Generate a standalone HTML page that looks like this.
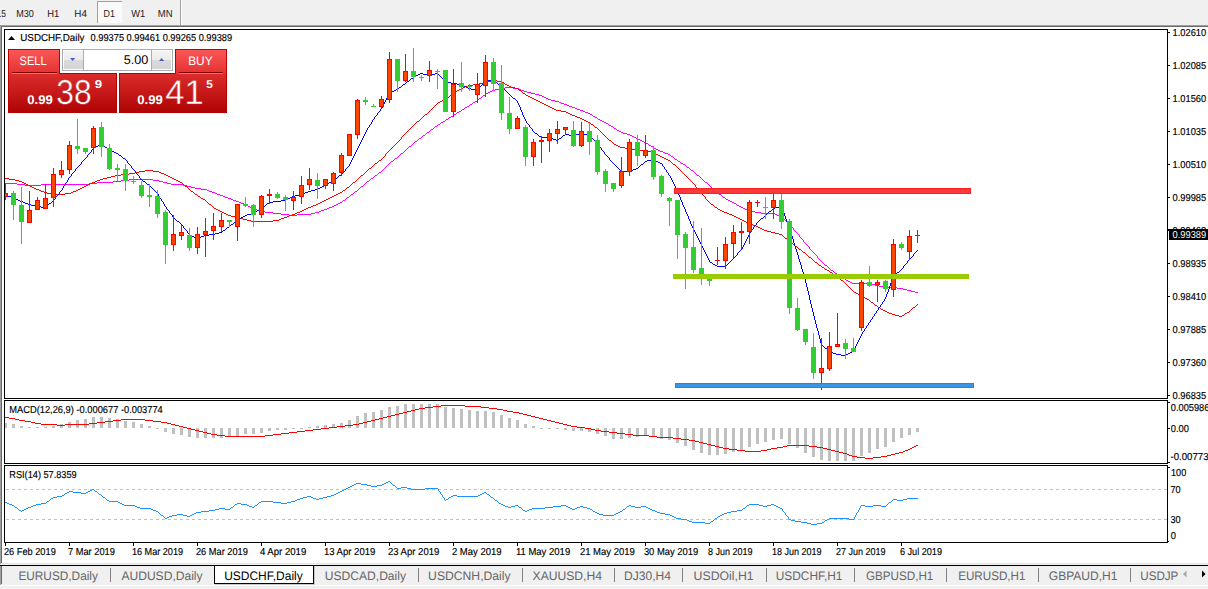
<!DOCTYPE html>
<html><head><meta charset="utf-8"><title>USDCHF,Daily</title><style>html,body{margin:0;padding:0;background:#f0f0f0;width:1208px;height:589px;overflow:hidden}text{white-space:pre}</style></head><body>
<svg width="1208" height="589" viewBox="0 0 1208 589" font-family='"Liberation Sans", Arial, sans-serif' shape-rendering="crispEdges" text-rendering="geometricPrecision" style="display:block">
<defs><clipPath id="cm"><rect x="5" y="30" width="1162" height="368"/></clipPath><clipPath id="cd"><rect x="5" y="401" width="1162" height="62"/></clipPath><clipPath id="cr"><rect x="5" y="466" width="1162" height="76"/></clipPath><clipPath id="ctab"><rect x="0" y="566" width="1178" height="20"/></clipPath><linearGradient id="gbtn" x1="0" y1="0" x2="0" y2="1"><stop offset="0" stop-color="#fb5757"/><stop offset="1" stop-color="#e33131"/></linearGradient><linearGradient id="gpan" x1="0" y1="0" x2="0" y2="1"><stop offset="0" stop-color="#dc2c2c"/><stop offset="1" stop-color="#af0404"/></linearGradient><linearGradient id="gspin" x1="0" y1="0" x2="0" y2="1"><stop offset="0" stop-color="#f2f2f2"/><stop offset="0.5" stop-color="#ebebeb"/><stop offset="0.5" stop-color="#dadada"/><stop offset="1" stop-color="#d5d5d5"/></linearGradient></defs>
<rect x="0" y="0" width="1208" height="589" fill="#f0f0f0"/>
<text x="-10.5" y="17" font-size="10.1" fill="#1a1a1a" textLength="16.5" lengthAdjust="spacingAndGlyphs">M15</text>
<text x="16.2" y="17" font-size="10.1" fill="#1a1a1a" textLength="17.6" lengthAdjust="spacingAndGlyphs">M30</text>
<text x="47.2" y="17" font-size="10.1" fill="#1a1a1a" textLength="12" lengthAdjust="spacingAndGlyphs">H1</text>
<text x="74.3" y="17" font-size="10.1" fill="#1a1a1a" textLength="12.6" lengthAdjust="spacingAndGlyphs">H4</text>
<rect x="97" y="1" width="25" height="22" fill="#fafafa"/>
<rect x="97" y="1" width="25" height="1" fill="#a0a0a0"/>
<rect x="97" y="1" width="1" height="22" fill="#a0a0a0"/>
<text x="103.5" y="17" font-size="10.1" fill="#1a1a1a" textLength="11.4" lengthAdjust="spacingAndGlyphs">D1</text>
<text x="131.2" y="17" font-size="10.1" fill="#1a1a1a" textLength="14" lengthAdjust="spacingAndGlyphs">W1</text>
<text x="157.8" y="17" font-size="10.1" fill="#1a1a1a" textLength="14.7" lengthAdjust="spacingAndGlyphs">MN</text>
<rect x="180" y="0" width="1" height="25" fill="#a0a0a0"/>
<rect x="181" y="0" width="1" height="25" fill="#ffffff"/>
<rect x="0" y="25" width="1208" height="1" fill="#a0a0a0"/>
<rect x="1" y="26" width="1207" height="1" fill="#696969"/>
<rect x="0" y="25" width="1" height="539" fill="#a0a0a0"/>
<rect x="1" y="26" width="1" height="537" fill="#696969"/>
<rect x="2" y="27" width="1206" height="536" fill="#ffffff"/>
<rect x="1" y="563" width="1207" height="1" fill="#e3e3e3"/>
<rect x="4" y="29" width="1164" height="1" fill="#000"/>
<rect x="4" y="398" width="1164" height="1" fill="#000"/>
<rect x="4" y="29" width="1" height="370" fill="#000"/>
<rect x="1167" y="29" width="1" height="370" fill="#000"/>
<rect x="4" y="400" width="1164" height="1" fill="#000"/>
<rect x="4" y="463" width="1164" height="1" fill="#000"/>
<rect x="4" y="400" width="1" height="64" fill="#000"/>
<rect x="1167" y="400" width="1" height="64" fill="#000"/>
<rect x="4" y="465" width="1164" height="1" fill="#000"/>
<rect x="4" y="542" width="1164" height="1" fill="#000"/>
<rect x="4" y="465" width="1" height="78" fill="#000"/>
<rect x="1167" y="465" width="1" height="78" fill="#000"/>
<g clip-path="url(#cm)">
<path d="M375 175h2v1h-2zM697 175h2v1h-2zM129 179h24v1h-24zM257 210h3v1h-3zM321 210h3v1h-3zM748 210h3v1h-3zM248 206h2v1h-2zM332 206h2v1h-2zM739 206h2v1h-2zM255 209h2v1h-2zM324 209h3v1h-3zM745 209h3v1h-3zM121 180h8v1h-8zM153 180h6v1h-6zM831 270h2v1h-2zM265 212h8v1h-8zM315 212h4v1h-4zM755 212h6v1h-6zM281 214h8v1h-8zM297 214h14v1h-14zM775 214h2v1h-2zM379 172h2v1h-2zM499 88h6v1h-6zM513 88h6v1h-6zM225 197h3v1h-3zM347 197h2v1h-2zM723 197h2v1h-2zM113 181h8v1h-8zM159 181h4v1h-4zM367 181h2v1h-2zM195 188h6v1h-6zM883 287h14v1h-14zM852 283h19v1h-19zM663 152h2v1h-2zM241 203h3v1h-3zM338 203h2v1h-2zM734 203h2v1h-2zM231 199h2v1h-2zM726 199h2v1h-2zM17 184h8v1h-8zM41 184h48v1h-48zM171 184h12v1h-12zM614 128h2v1h-2zM897 288h6v1h-6zM588 113h2v1h-2zM459 111h2v1h-2zM583 111h2v1h-2zM640 140h2v1h-2zM490 91h2v1h-2zM524 91h3v1h-3zM233 200h3v1h-3zM343 200h2v1h-2zM728 200h2v1h-2zM217 194h3v1h-3zM351 194h2v1h-2zM719 194h2v1h-2zM475 101h2v1h-2zM555 101h4v1h-4zM244 204h2v1h-2zM336 204h2v1h-2zM250 207h2v1h-2zM329 207h3v1h-3zM741 207h2v1h-2zM606 123h2v1h-2zM431 129h2v1h-2zM561 103h3v1h-3zM575 108h2v1h-2zM634 137h2v1h-2zM903 289h4v1h-4zM483 95h2v1h-2zM539 95h3v1h-3zM236 201h3v1h-3zM730 201h2v1h-2zM209 191h3v1h-3zM355 191h2v1h-2zM273 213h8v1h-8zM311 213h4v1h-4zM761 213h14v1h-14zM191 187h4v1h-4zM435 126h2v1h-2zM611 126h2v1h-2zM415 141h2v1h-2zM642 141h2v1h-2zM260 211h5v1h-5zM319 211h2v1h-2zM751 211h4v1h-4zM492 90h3v1h-3zM521 90h3v1h-3zM644 142h2v1h-2zM419 138h2v1h-2zM636 138h2v1h-2zM850 282h2v1h-2zM871 284h4v1h-4zM201 189h6v1h-6zM713 189h2v1h-2zM97 182h16v1h-16zM163 182h4v1h-4zM705 182h2v1h-2zM638 139h2v1h-2zM423 135h2v1h-2zM630 135h2v1h-2zM207 190h2v1h-2zM473 102h2v1h-2zM559 102h2v1h-2zM187 186h4v1h-4zM361 186h2v1h-2zM875 285h4v1h-4zM289 215h8v1h-8zM777 215h3v1h-3zM681 163h2v1h-2zM25 185h16v1h-16zM183 185h4v1h-4zM907 290h4v1h-4zM486 93h2v1h-2zM531 93h4v1h-4zM683 164h2v1h-2zM846 280h2v1h-2zM627 134h3v1h-3zM623 133h4v1h-4zM5 183h12v1h-12zM89 183h8v1h-8zM167 183h4v1h-4zM462 109h2v1h-2zM577 109h3v1h-3zM391 161h2v1h-2zM678 161h2v1h-2zM619 131h2v1h-2zM467 106h2v1h-2zM569 106h3v1h-3zM505 87h8v1h-8zM548 99h3v1h-3zM443 121h2v1h-2zM602 121h2v1h-2zM488 92h2v1h-2zM527 92h4v1h-4zM465 107h2v1h-2zM572 107h3v1h-3zM441 122h2v1h-2zM604 122h2v1h-2zM212 192h3v1h-3zM470 104h2v1h-2zM564 104h3v1h-3zM675 159h2v1h-2zM446 119h2v1h-2zM598 119h2v1h-2zM600 120h2v1h-2zM395 158h2v1h-2zM223 196h2v1h-2zM838 275h2v1h-2zM252 208h3v1h-3zM327 208h2v1h-2zM743 208h2v1h-2zM535 94h4v1h-4zM449 117h2v1h-2zM595 117h2v1h-2zM687 167h2v1h-2zM879 286h4v1h-4zM542 96h2v1h-2zM228 198h3v1h-3zM580 110h3v1h-3zM841 277h2v1h-2zM401 153h2v1h-2zM665 153h3v1h-3zM220 195h3v1h-3zM658 150h2v1h-2zM246 205h2v1h-2zM334 205h2v1h-2zM737 205h2v1h-2zM495 89h4v1h-4zM519 89h2v1h-2zM915 292h3v1h-3zM239 202h2v1h-2zM340 202h2v1h-2zM732 202h2v1h-2zM457 112h2v1h-2zM585 112h3v1h-3zM427 132h2v1h-2zM621 132h2v1h-2zM911 291h4v1h-4zM479 98h2v1h-2zM546 98h2v1h-2zM691 170h2v1h-2zM454 114h2v1h-2zM590 114h2v1h-2zM409 146h2v1h-2zM651 146h2v1h-2zM668 154h2v1h-2zM660 151h3v1h-3zM646 143h2v1h-2zM371 178h2v1h-2zM654 148h2v1h-2zM551 100h4v1h-4zM438 124h2v1h-2zM617 130h2v1h-2zM649 145h2v1h-2zM632 136h2v1h-2zM567 105h2v1h-2zM544 97h2v1h-2zM215 193h2v1h-2zM609 125h2v1h-2zM843 278h2v1h-2zM671 156h2v1h-2zM825 265h2v1h-2zM451 116h2v1h-2zM593 116h2v1h-2zM780 216h2v1h-2zM835 273h2v1h-2zM656 149h2v1h-2zM848 281h2v1h-2zM815 254v1h1v-1zM702 179v1h1v-1zM695 173v1h1v-1zM810 249v1h1v-1zM373 177v1h1v-1zM437 125v1h1v-1zM363 185v1h1v-1zM809 247v2h1v-2zM797 233v1h1v-1zM811 250v1h1v-1zM791 226v1h1v-1zM418 139v1h1v-1zM816 255v1h1v-1zM377 174v1h1v-1zM845 279v1h1v-1zM378 173v1h1v-1zM787 222v1h1v-1zM456 113v1h1v-1zM792 227v1h1v-1zM822 262v1h1v-1zM417 140v1h1v-1zM342 201v1h1v-1zM448 118v1h1v-1zM833 271v1h1v-1zM422 136v1h1v-1zM685 165v1h1v-1zM670 155v1h1v-1zM696 174v1h1v-1zM440 123v1h1v-1zM616 129v1h1v-1zM472 103v1h1v-1zM798 234v1h1v-1zM823 263v1h1v-1zM464 108v1h1v-1zM421 137v1h1v-1zM834 272v1h1v-1zM346 198v1h1v-1zM817 256v2h1v-2zM485 94v1h1v-1zM813 252v1h1v-1zM716 191v1h1v-1zM807 245v1h1v-1zM793 228v2h1v-2zM345 199v1h1v-1zM597 118v1h1v-1zM789 224v1h1v-1zM808 246v1h1v-1zM693 171v1h1v-1zM828 267v1h1v-1zM804 242v1h1v-1zM397 157v1h1v-1zM814 253v1h1v-1zM717 192v1h1v-1zM592 115v1h1v-1zM384 168v1h1v-1zM718 193v1h1v-1zM805 243v1h1v-1zM707 183v1h1v-1zM382 170v1h1v-1zM383 169v1h1v-1zM725 198v1h1v-1zM390 162v1h1v-1zM806 244v1h1v-1zM381 171v1h1v-1zM800 237v1h1v-1zM712 188v1h1v-1zM425 134v1h1v-1zM426 133v1h1v-1zM690 169v1h1v-1zM708 184v1h1v-1zM840 276v1h1v-1zM677 160v1h1v-1zM360 187v1h1v-1zM365 183v1h1v-1zM429 131v1h1v-1zM349 196v1h1v-1zM350 195v1h1v-1zM430 130v1h1v-1zM709 185v1h1v-1zM364 184v1h1v-1zM353 193v1h1v-1zM648 144v1h1v-1zM477 100v1h1v-1zM478 99v1h1v-1zM469 105v1h1v-1zM803 240v2h1v-2zM829 268v1h1v-1zM461 110v1h1v-1zM710 186v1h1v-1zM799 235v2h1v-2zM407 148v1h1v-1zM481 97v1h1v-1zM711 187v1h1v-1zM673 157v1h1v-1zM699 176v1h1v-1zM736 204v1h1v-1zM394 159v1h1v-1zM837 274v1h1v-1zM783 218v1h1v-1zM613 127v1h1v-1zM689 168v1h1v-1zM366 182v1h1v-1zM674 158v1h1v-1zM801 238v1h1v-1zM795 231v1h1v-1zM827 266v1h1v-1zM820 260v1h1v-1zM653 147v1h1v-1zM608 124v1h1v-1zM370 179v1h1v-1zM354 192v1h1v-1zM434 127v1h1v-1zM796 232v1h1v-1zM385 167v1h1v-1zM369 180v1h1v-1zM374 176v1h1v-1zM433 128v1h1v-1zM358 189v1h1v-1zM359 188v1h1v-1zM786 221v1h1v-1zM802 239v1h1v-1zM721 195v1h1v-1zM408 147v1h1v-1zM482 96v1h1v-1zM413 143v1h1v-1zM453 115v1h1v-1zM414 142v1h1v-1zM821 261v1h1v-1zM445 120v1h1v-1zM782 217v1h1v-1zM357 190v1h1v-1zM703 180v1h1v-1zM406 149v1h1v-1zM411 145v1h1v-1zM412 144v1h1v-1zM830 269v1h1v-1zM818 258v1h1v-1zM704 181v1h1v-1zM812 251v1h1v-1zM722 196v1h1v-1zM715 190v1h1v-1zM399 155v1h1v-1zM400 154v1h1v-1zM405 150v1h1v-1zM700 177v1h1v-1zM389 163v1h1v-1zM794 230v1h1v-1zM788 223v1h1v-1zM686 166v1h1v-1zM680 162v1h1v-1zM398 156v1h1v-1zM403 152v1h1v-1zM404 151v1h1v-1zM784 219v1h1v-1zM387 165v1h1v-1zM388 164v1h1v-1zM824 264v1h1v-1zM393 160v1h1v-1zM819 259v1h1v-1zM790 225v1h1v-1zM785 220v1h1v-1zM386 166v1h1v-1zM701 178v1h1v-1zM694 172v1h1v-1z" fill="#ff00ff"/>
<path d="M324 200h2v1h-2zM24 183h2v1h-2zM90 183h2v1h-2zM224 213h2v1h-2zM295 213h2v1h-2zM727 213h2v1h-2zM198 196h2v1h-2zM332 196h2v1h-2zM444 99h2v1h-2zM534 99h2v1h-2zM760 228h2v1h-2zM220 211h2v1h-2zM300 211h2v1h-2zM722 211h2v1h-2zM251 221h22v1h-22zM744 221h2v1h-2zM465 86h3v1h-3zM509 86h2v1h-2zM107 177h4v1h-4zM170 177h2v1h-2zM330 197h2v1h-2zM528 96h2v1h-2zM753 225h3v1h-3zM36 189h3v1h-3zM78 189h2v1h-2zM201 198h2v1h-2zM328 198h2v1h-2zM111 176h4v1h-4zM168 176h2v1h-2zM491 80h6v1h-6zM556 110h5v1h-5zM51 194h14v1h-14zM195 194h2v1h-2zM336 194h2v1h-2zM235 217h4v1h-4zM284 217h3v1h-3zM736 217h2v1h-2zM461 88h2v1h-2zM515 88h3v1h-3zM552 108h2v1h-2zM544 104h2v1h-2zM468 85h5v1h-5zM507 85h2v1h-2zM308 207h3v1h-3zM715 207h2v1h-2zM625 148h6v1h-6zM226 214h2v1h-2zM292 214h3v1h-3zM729 214h3v1h-3zM5 178h4v1h-4zM103 178h4v1h-4zM172 178h2v1h-2zM871 302h2v1h-2zM47 193h4v1h-4zM65 193h6v1h-6zM338 193h2v1h-2zM115 175h6v1h-6zM166 175h2v1h-2zM361 175h2v1h-2zM631 149h4v1h-4zM22 182h2v1h-2zM92 182h3v1h-3zM180 182h2v1h-2zM353 182h2v1h-2zM216 209h2v1h-2zM304 209h2v1h-2zM718 209h2v1h-2zM673 164h2v1h-2zM548 106h2v1h-2zM438 102h2v1h-2zM540 102h2v1h-2zM532 98h2v1h-2zM231 216h4v1h-4zM287 216h2v1h-2zM734 216h2v1h-2zM26 184h2v1h-2zM88 184h2v1h-2zM767 231h4v1h-4zM9 179h6v1h-6zM100 179h3v1h-3zM174 179h2v1h-2zM320 202h2v1h-2zM440 101h2v1h-2zM538 101h2v1h-2zM139 171h6v1h-6zM153 171h6v1h-6zM15 180h4v1h-4zM97 180h3v1h-3zM176 180h2v1h-2zM145 170h8v1h-8zM121 174h8v1h-8zM164 174h2v1h-2zM442 100h2v1h-2zM536 100h2v1h-2zM523 93h2v1h-2zM228 215h3v1h-3zM289 215h3v1h-3zM732 215h2v1h-2zM550 107h2v1h-2zM41 191h3v1h-3zM73 191h3v1h-3zM191 191h2v1h-2zM209 204h2v1h-2zM316 204h2v1h-2zM711 204h2v1h-2zM135 172h4v1h-4zM159 172h2v1h-2zM609 140h2v1h-2zM889 313h3v1h-3zM905 313h2v1h-2zM243 219h4v1h-4zM279 219h2v1h-2zM740 219h2v1h-2zM457 90h2v1h-2zM519 90h2v1h-2zM785 238h2v1h-2zM417 121h2v1h-2zM586 121h2v1h-2zM883 310h2v1h-2zM39 190h2v1h-2zM76 190h2v1h-2zM343 190h2v1h-2zM895 315h4v1h-4zM902 315h2v1h-2zM647 151h4v1h-4zM554 109h2v1h-2zM580 118h2v1h-2zM546 105h2v1h-2zM878 307h2v1h-2zM913 307h2v1h-2zM487 81h4v1h-4zM497 81h5v1h-5zM651 152h3v1h-3zM591 124h2v1h-2zM865 298h2v1h-2zM30 186h2v1h-2zM84 186h2v1h-2zM185 186h2v1h-2zM239 218h4v1h-4zM281 218h3v1h-3zM738 218h2v1h-2zM247 220h4v1h-4zM273 220h6v1h-6zM742 220h2v1h-2zM835 275h2v1h-2zM885 311h2v1h-2zM775 233h4v1h-4zM32 187h2v1h-2zM82 187h2v1h-2zM347 187h2v1h-2zM856 293h2v1h-2zM129 173h6v1h-6zM161 173h3v1h-3zM542 103h2v1h-2zM664 158h2v1h-2zM867 299h2v1h-2zM656 154h2v1h-2zM860 295h2v1h-2zM887 312h2v1h-2zM907 312h2v1h-2zM635 150h12v1h-12zM34 188h2v1h-2zM80 188h2v1h-2zM473 84h6v1h-6zM505 84h2v1h-2zM311 206h2v1h-2zM203 199h2v1h-2zM326 199h2v1h-2zM561 111h5v1h-5zM666 159h2v1h-2zM830 272h2v1h-2zM616 145h2v1h-2zM618 146h2v1h-2zM322 201h2v1h-2zM892 314h3v1h-3zM825 269h2v1h-2zM620 147h5v1h-5zM827 270h2v1h-2zM614 144h2v1h-2zM463 87h2v1h-2zM511 87h4v1h-4zM572 115h3v1h-3zM568 113h2v1h-2zM19 181h3v1h-3zM95 181h2v1h-2zM178 181h2v1h-2zM822 267h2v1h-2zM841 280h2v1h-2zM454 92h2v1h-2zM447 97h2v1h-2zM530 97h2v1h-2zM44 192h3v1h-3zM71 192h2v1h-2zM340 192h2v1h-2zM369 168h2v1h-2zM459 89h2v1h-2zM875 305h2v1h-2zM425 114h2v1h-2zM570 114h2v1h-2zM318 203h2v1h-2zM899 316h3v1h-3zM779 234h3v1h-3zM658 155h2v1h-2zM762 229h2v1h-2zM575 116h2v1h-2zM28 185h2v1h-2zM86 185h2v1h-2zM588 122h2v1h-2zM222 212h2v1h-2zM297 212h3v1h-3zM724 212h3v1h-3zM582 119h2v1h-2zM214 208h2v1h-2zM306 208h2v1h-2zM654 153h2v1h-2zM758 227h2v1h-2zM451 94h2v1h-2zM751 224h2v1h-2zM791 243h2v1h-2zM334 195h2v1h-2zM803 252h2v1h-2zM218 210h2v1h-2zM302 210h2v1h-2zM720 210h2v1h-2zM577 117h3v1h-3zM313 205h3v1h-3zM815 262h2v1h-2zM746 222h2v1h-2zM483 82h4v1h-4zM502 82h2v1h-2zM660 156h2v1h-2zM764 230h3v1h-3zM479 83h4v1h-4zM771 232h4v1h-4zM799 249h2v1h-2zM862 296h2v1h-2zM375 163h2v1h-2zM854 292h2v1h-2zM595 127h2v1h-2zM858 294h2v1h-2zM526 95h2v1h-2zM795 246h2v1h-2zM809 257h2v1h-2zM379 160h2v1h-2zM668 160h2v1h-2zM566 112h2v1h-2zM662 157h2v1h-2zM584 120h2v1h-2zM819 265h2v1h-2zM748 223h3v1h-3zM756 226h2v1h-2zM833 274h2v1h-2zM881 309h2v1h-2zM432 108v1h1v-1zM385 154v2h1v-2zM693 183v1h1v-1zM604 135v1h1v-1zM805 253v1h1v-1zM450 95v1h1v-1zM205 200v1h1v-1zM600 131v1h1v-1zM708 201v1h1v-1zM355 181v1h1v-1zM200 197v1h1v-1zM806 254v1h1v-1zM449 96v1h1v-1zM817 263v1h1v-1zM608 139v1h1v-1zM709 202v1h1v-1zM424 115v1h1v-1zM912 308v1h1v-1zM360 176v1h1v-1zM393 146v1h1v-1zM430 110v1h1v-1zM207 202v1h1v-1zM917 304v1h1v-1zM839 278v1h1v-1zM703 195v1h1v-1zM824 268v1h1v-1zM699 190v2h1v-2zM793 244v1h1v-1zM594 126v1h1v-1zM391 148v1h1v-1zM423 116v1h1v-1zM916 305v1h1v-1zM428 112v1h1v-1zM606 137v1h1v-1zM607 138v1h1v-1zM700 192v1h1v-1zM602 133v1h1v-1zM710 203v1h1v-1zM390 149v1h1v-1zM408 130v1h1v-1zM208 203v1h1v-1zM416 122v1h1v-1zM840 279v1h1v-1zM706 199v1h1v-1zM717 208v1h1v-1zM679 169v1h1v-1zM880 308v1h1v-1zM406 132v1h1v-1zM189 189v1h1v-1zM675 165v1h1v-1zM701 193v1h1v-1zM373 165v1h1v-1zM190 190v1h1v-1zM374 164v1h1v-1zM368 169v1h1v-1zM197 195v1h1v-1zM521 91v1h1v-1zM829 271v1h1v-1zM377 162v1h1v-1zM378 161v1h1v-1zM605 136v1h1v-1zM401 137v2h1v-2zM367 170v1h1v-1zM404 134v1h1v-1zM593 125v1h1v-1zM686 176v1h1v-1zM453 93v1h1v-1zM522 92v1h1v-1zM392 147v1h1v-1zM682 172v1h1v-1zM399 140v1h1v-1zM365 172v1h1v-1zM429 111v1h1v-1zM402 136v1h1v-1zM677 167v1h1v-1zM371 167v1h1v-1zM400 139v1h1v-1zM187 187v1h1v-1zM818 264v1h1v-1zM678 168v1h1v-1zM811 258v1h1v-1zM704 196v1h1v-1zM427 113v1h1v-1zM398 141v1h1v-1zM364 173v1h1v-1zM435 105v1h1v-1zM910 310v1h1v-1zM422 117v1h1v-1zM911 309v1h1v-1zM188 188v1h1v-1zM359 177v1h1v-1zM342 191v1h1v-1zM870 301v1h1v-1zM794 245v1h1v-1zM787 239v1h1v-1zM415 123v1h1v-1zM420 119v1h1v-1zM352 183v1h1v-1zM421 118v1h1v-1zM357 179v1h1v-1zM801 250v1h1v-1zM909 311v1h1v-1zM389 150v1h1v-1zM611 141v1h1v-1zM695 185v2h1v-2zM812 259v1h1v-1zM864 297v1h1v-1zM705 197v2h1v-2zM684 174v1h1v-1zM387 152v1h1v-1zM419 120v1h1v-1zM388 151v1h1v-1zM845 283v1h1v-1zM182 183v1h1v-1zM345 189v1h1v-1zM680 170v1h1v-1zM414 124v1h1v-1zM813 260v1h1v-1zM904 314v1h1v-1zM788 240v1h1v-1zM384 156v1h1v-1zM386 153v1h1v-1zM676 166v1h1v-1zM405 133v1h1v-1zM702 194v1h1v-1zM846 284v1h1v-1zM802 251v1h1v-1zM412 126v1h1v-1zM696 187v1h1v-1zM590 123v1h1v-1zM382 158v1h1v-1zM790 242v1h1v-1zM383 157v1h1v-1zM366 171v1h1v-1zM437 103v1h1v-1zM403 135v1h1v-1zM372 166v1h1v-1zM410 128v1h1v-1zM697 188v1h1v-1zM814 261v1h1v-1zM691 181v1h1v-1zM381 159v1h1v-1zM436 104v1h1v-1zM670 161v1h1v-1zM687 177v1h1v-1zM504 83v1h1v-1zM847 285v1h1v-1zM821 266v1h1v-1zM456 91v1h1v-1zM598 129v1h1v-1zM713 205v1h1v-1zM211 205v1h1v-1zM683 173v1h1v-1zM869 300v1h1v-1zM843 281v1h1v-1zM853 291v1h1v-1zM671 162v1h1v-1zM688 178v1h1v-1zM848 286v1h1v-1zM358 178v1h1v-1zM915 306v1h1v-1zM363 174v1h1v-1zM698 189v1h1v-1zM849 287v1h1v-1zM212 206v1h1v-1zM603 134v1h1v-1zM844 282v1h1v-1zM356 180v1h1v-1zM396 143v1h1v-1zM433 107v1h1v-1zM397 142v1h1v-1zM346 188v1h1v-1zM599 130v1h1v-1zM351 184v1h1v-1zM193 192v1h1v-1zM877 306v1h1v-1zM694 184v1h1v-1zM612 142v1h1v-1zM689 179v1h1v-1zM394 145v1h1v-1zM672 163v1h1v-1zM431 109v1h1v-1zM395 144v1h1v-1zM413 125v1h1v-1zM349 186v1h1v-1zM350 185v1h1v-1zM690 180v1h1v-1zM832 273v1h1v-1zM850 288v1h1v-1zM213 207v1h1v-1zM685 175v1h1v-1zM206 201v1h1v-1zM838 277v1h1v-1zM411 127v1h1v-1zM183 184v1h1v-1zM681 171v1h1v-1zM789 241v1h1v-1zM194 193v1h1v-1zM782 235v1h1v-1zM518 89v1h1v-1zM851 289v1h1v-1zM613 143v1h1v-1zM601 132v1h1v-1zM525 94v1h1v-1zM807 255v1h1v-1zM597 128v1h1v-1zM797 247v1h1v-1zM184 185v1h1v-1zM808 256v1h1v-1zM692 182v1h1v-1zM783 236v1h1v-1zM852 290v1h1v-1zM409 129v1h1v-1zM714 206v1h1v-1zM434 106v1h1v-1zM707 200v1h1v-1zM784 237v1h1v-1zM407 131v1h1v-1zM873 303v1h1v-1zM837 276v1h1v-1zM446 98v1h1v-1zM874 304v1h1v-1zM798 248v1h1v-1z" fill="#ff0000"/>
<path d="M713 264h2v1h-2zM392 91h2v1h-2zM107 148h2v1h-2zM631 170h2v1h-2zM114 152h2v1h-2zM257 210h2v1h-2zM299 194h4v1h-4zM190 235h2v1h-2zM204 235h5v1h-5zM5 195h2v1h-2zM295 195h4v1h-4zM565 134h4v1h-4zM575 134h4v1h-4zM583 134h4v1h-4zM660 163h2v1h-2zM390 92h2v1h-2zM464 86h2v1h-2zM841 355h5v1h-5zM641 164h2v1h-2zM209 234h6v1h-6zM485 80h9v1h-9zM769 211h2v1h-2zM20 201h3v1h-3zM273 201h8v1h-8zM825 348h2v1h-2zM110 150h2v1h-2zM399 87h2v1h-2zM466 87h2v1h-2zM394 90h2v1h-2zM475 90h3v1h-3zM418 74h2v1h-2zM423 74h4v1h-4zM431 74h4v1h-4zM647 160h4v1h-4zM654 160h2v1h-2zM710 262h2v1h-2zM829 351h2v1h-2zM852 351h2v1h-2zM403 84h2v1h-2zM457 84h5v1h-5zM335 178h2v1h-2zM447 82h4v1h-4zM495 82h2v1h-2zM231 224h2v1h-2zM339 175h2v1h-2zM227 227h2v1h-2zM645 161h2v1h-2zM656 161h2v1h-2zM112 151h2v1h-2zM123 158h2v1h-2zM18 200h2v1h-2zM281 200h5v1h-5zM243 216h2v1h-2zM563 135h2v1h-2zM569 135h6v1h-6zM587 135h3v1h-3zM177 221h2v1h-2zM235 221h2v1h-2zM31 205h4v1h-4zM396 89h2v1h-2zM471 89h4v1h-4zM836 354h5v1h-5zM846 354h2v1h-2zM407 81h2v1h-2zM445 81h2v1h-2zM311 190h4v1h-4zM11 197h3v1h-3zM290 197h2v1h-2zM717 266h9v1h-9zM541 137h10v1h-10zM411 78h2v1h-2zM303 193h2v1h-2zM23 202h2v1h-2zM269 202h4v1h-4zM35 206h6v1h-6zM263 206h2v1h-2zM779 206h3v1h-3zM116 153h2v1h-2zM651 159h3v1h-3zM761 218h2v1h-2zM324 185h2v1h-2zM254 212h2v1h-2zM621 171h10v1h-10zM16 199h2v1h-2zM286 199h2v1h-2zM322 186h2v1h-2zM513 98h2v1h-2zM100 144h2v1h-2zM119 155h2v1h-2zM833 353h3v1h-3zM848 353h2v1h-2zM98 145h2v1h-2zM102 145h2v1h-2zM219 232h3v1h-3zM194 237h2v1h-2zM199 237h2v1h-2zM94 147h2v1h-2zM105 147h2v1h-2zM41 207h5v1h-5zM775 207h4v1h-4zM329 182h2v1h-2zM196 238h3v1h-3zM14 198h2v1h-2zM288 198h2v1h-2zM192 236h2v1h-2zM201 236h3v1h-3zM305 192h3v1h-3zM238 219h2v1h-2zM259 209h2v1h-2zM636 168h2v1h-2zM315 189h3v1h-3zM451 83h6v1h-6zM535 133h2v1h-2zM579 133h4v1h-4zM96 146h2v1h-2zM556 140h2v1h-2zM773 208h2v1h-2zM658 162h2v1h-2zM320 187h2v1h-2zM420 73h3v1h-3zM435 73h3v1h-3zM831 352h2v1h-2zM850 352h2v1h-2zM215 233h4v1h-4zM462 85h2v1h-2zM499 85h2v1h-2zM28 204h3v1h-3zM223 230h2v1h-2zM7 196h4v1h-4zM292 196h3v1h-3zM245 215h2v1h-2zM308 191h3v1h-3zM25 203h3v1h-3zM49 203h2v1h-2zM267 203h2v1h-2zM251 213h3v1h-3zM241 217h2v1h-2zM539 136h2v1h-2zM551 138h2v1h-2zM559 138h2v1h-2zM416 75h2v1h-2zM427 75h4v1h-4zM147 184h2v1h-2zM326 184h2v1h-2zM143 181h2v1h-2zM331 181h2v1h-2zM318 188h2v1h-2zM715 265h2v1h-2zM633 169h3v1h-3zM468 88h3v1h-3zM247 214h4v1h-4zM897 272h2v1h-2zM553 139h3v1h-3zM414 76h2v1h-2zM905 264v1h1v-1zM816 324v4h1v-4zM506 91v1h1v-1zM357 148v2h1v-2zM75 169v2h1v-2zM678 193v2h1v-2zM638 167v1h1v-1zM884 299v2h1v-2zM158 194v2h1v-2zM187 231v2h1v-2zM864 329v2h1v-2zM896 273v1h1v-1zM707 256v2h1v-2zM128 163v1h1v-1zM507 92v1h1v-1zM812 308v4h1v-4zM528 124v1h1v-1zM348 166v1h1v-1zM805 279v4h1v-4zM900 270v1h1v-1zM67 180v2h1v-2zM129 164v1h1v-1zM70 176v1h1v-1zM529 125v2h1v-2zM787 222v2h1v-2zM889 286v3h1v-3zM388 94v2h1v-2zM361 140v2h1v-2zM532 129v2h1v-2zM685 209v3h1v-3zM596 142v1h1v-1zM815 320v4h1v-4zM868 323v2h1v-2zM893 276v2h1v-2zM880 305v2h1v-2zM860 336v2h1v-2zM83 160v1h1v-1zM729 262v1h1v-1zM607 156v1h1v-1zM911 257v1h1v-1zM179 222v1h1v-1zM517 101v2h1v-2zM63 186v2h1v-2zM753 227v2h1v-2zM139 176v2h1v-2zM384 102v2h1v-2zM908 260v1h1v-1zM888 289v3h1v-3zM180 223v1h1v-1zM78 166v1h1v-1zM692 226v2h1v-2zM352 158v2h1v-2zM161 199v2h1v-2zM892 278v3h1v-3zM614 164v1h1v-1zM856 344v2h1v-2zM373 119v1h1v-1zM47 205v1h1v-1zM91 150v2h1v-2zM808 291v4h1v-4zM484 81v1h1v-1zM524 117v2h1v-2zM127 161v2h1v-2zM380 109v2h1v-2zM383 104v2h1v-2zM356 150v2h1v-2zM794 243v3h1v-3zM741 249v1h1v-1zM814 316v4h1v-4zM109 149v1h1v-1zM149 185v1h1v-1zM876 311v2h1v-2zM811 304v4h1v-4zM855 346v2h1v-2zM479 87v2h1v-2zM150 186v1h1v-1zM521 110v2h1v-2zM703 248v2h1v-2zM807 287v4h1v-4zM328 183v1h1v-1zM606 155v1h1v-1zM736 255v1h1v-1zM745 241v2h1v-2zM695 232v2h1v-2zM883 301v1h1v-1zM164 204v2h1v-2zM790 230v3h1v-3zM801 265v4h1v-4zM821 343v2h1v-2zM54 199v1h1v-1zM691 224v2h1v-2zM157 193v1h1v-1zM66 182v1h1v-1zM189 234v1h1v-1zM240 218v1h1v-1zM160 198v1h1v-1zM51 202v1h1v-1zM360 142v2h1v-2zM804 275v4h1v-4zM376 115v1h1v-1zM867 325v1h1v-1zM768 212v1h1v-1zM677 190v3h1v-3zM859 338v2h1v-2zM131 166v2h1v-2zM523 115v2h1v-2zM800 262v3h1v-3zM891 281v2h1v-2zM706 254v2h1v-2zM146 183v1h1v-1zM175 219v1h1v-1zM772 209v1h1v-1zM793 239v4h1v-4zM818 331v4h1v-4zM62 188v2h1v-2zM907 261v2h1v-2zM138 175v1h1v-1zM599 146v1h1v-1zM520 107v3h1v-3zM640 165v1h1v-1zM786 219v3h1v-3zM684 207v2h1v-2zM756 223v2h1v-2zM561 137v1h1v-1zM57 195v1h1v-1zM644 162v1h1v-1zM797 252v3h1v-3zM733 258v1h1v-1zM817 328v3h1v-3zM483 82v2h1v-2zM387 96v2h1v-2zM367 128v2h1v-2zM441 77v1h1v-1zM379 111v1h1v-1zM145 182v1h1v-1zM402 85v1h1v-1zM895 274v1h1v-1zM680 197v3h1v-3zM85 158v1h1v-1zM709 260v2h1v-2zM854 348v2h1v-2zM478 89v1h1v-1zM598 144v2h1v-2zM530 127v1h1v-1zM351 160v2h1v-2zM531 128v1h1v-1zM887 292v2h1v-2zM705 252v2h1v-2zM744 243v2h1v-2zM80 164v1h1v-1zM879 307v1h1v-1zM739 251v1h1v-1zM810 300v4h1v-4zM828 350v1h1v-1zM93 148v1h1v-1zM537 134v1h1v-1zM609 158v2h1v-2zM763 217v1h1v-1zM820 339v4h1v-4zM538 135v1h1v-1zM590 136v1h1v-1zM890 283v3h1v-3zM863 331v1h1v-1zM362 138v2h1v-2zM886 294v3h1v-3zM866 326v2h1v-2zM796 249v3h1v-3zM265 205v1h1v-1zM902 268v1h1v-1zM591 137v1h1v-1zM163 202v2h1v-2zM789 227v3h1v-3zM406 82v1h1v-1zM182 225v1h1v-1zM69 177v1h1v-1zM355 152v2h1v-2zM616 166v1h1v-1zM410 79v1h1v-1zM870 320v2h1v-2zM731 260v1h1v-1zM708 258v2h1v-2zM882 302v2h1v-2zM338 176v1h1v-1zM617 167v1h1v-1zM118 154v1h1v-1zM728 263v1h1v-1zM130 165v1h1v-1zM910 258v1h1v-1zM234 222v1h1v-1zM662 164v2h1v-2zM65 183v2h1v-2zM151 187v1h1v-1zM702 246v2h1v-2zM683 205v2h1v-2zM806 283v4h1v-4zM673 182v2h1v-2zM386 98v2h1v-2zM501 86v1h1v-1zM77 167v1h1v-1zM141 179v1h1v-1zM181 224v1h1v-1zM750 231v2h1v-2zM152 188v1h1v-1zM666 170v2h1v-2zM858 340v2h1v-2zM608 157v1h1v-1zM166 207v2h1v-2zM72 173v1h1v-1zM693 228v2h1v-2zM795 246v3h1v-3zM159 196v2h1v-2zM347 167v1h1v-1zM167 209v1h1v-1zM88 154v1h1v-1zM350 162v2h1v-2zM690 221v3h1v-3zM382 106v2h1v-2zM508 93v1h1v-1zM746 239v2h1v-2zM522 112v3h1v-3zM809 295v5h1v-5zM704 250v2h1v-2zM913 254v2h1v-2zM819 335v4h1v-4zM676 188v2h1v-2zM827 349v1h1v-1zM342 173v1h1v-1zM533 131v1h1v-1zM345 169v2h1v-2zM873 316v1h1v-1zM597 143v1h1v-1zM799 259v3h1v-3zM366 130v2h1v-2zM497 83v1h1v-1zM369 125v2h1v-2zM534 132v1h1v-1zM792 236v3h1v-3zM862 332v2h1v-2zM601 148v2h1v-2zM785 216v3h1v-3zM701 244v2h1v-2zM682 202v3h1v-3zM53 200v1h1v-1zM56 196v1h1v-1zM813 312v4h1v-4zM519 105v2h1v-2zM68 178v2h1v-2zM665 169v1h1v-1zM162 201v1h1v-1zM365 132v2h1v-2zM165 206v1h1v-1zM802 269v3h1v-3zM765 215v1h1v-1zM788 224v3h1v-3zM385 100v2h1v-2zM798 255v4h1v-4zM132 168v1h1v-1zM675 186v2h1v-2zM59 192v2h1v-2zM735 256v1h1v-1zM758 221v1h1v-1zM857 342v2h1v-2zM738 252v1h1v-1zM133 169v1h1v-1zM726 265v1h1v-1zM354 154v2h1v-2zM885 297v2h1v-2zM784 213v3h1v-3zM917 250v1h1v-1zM87 155v2h1v-2zM672 180v2h1v-2zM515 99v1h1v-1zM381 108v1h1v-1zM822 345v1h1v-1zM611 161v1h1v-1zM853 350v1h1v-1zM823 346v1h1v-1zM169 211v2h1v-2zM912 256v1h1v-1zM869 322v1h1v-1zM442 78v1h1v-1zM612 162v1h1v-1zM184 228v1h1v-1zM333 180v1h1v-1zM225 229v1h1v-1zM443 79v1h1v-1zM689 219v2h1v-2zM749 233v2h1v-2zM229 226v1h1v-1zM176 220v1h1v-1zM674 184v2h1v-2zM600 147v1h1v-1zM619 169v1h1v-1zM700 242v2h1v-2zM664 167v2h1v-2zM349 164v2h1v-2zM90 152v1h1v-1zM364 134v2h1v-2zM502 87v1h1v-1zM604 152v2h1v-2zM901 269v1h1v-1zM904 265v1h1v-1zM71 174v2h1v-2zM256 211v1h1v-1zM183 226v2h1v-2zM668 173v2h1v-2zM503 88v1h1v-1zM791 233v3h1v-3zM610 160v1h1v-1zM872 317v2h1v-2zM344 171v1h1v-1zM401 86v1h1v-1zM899 271v1h1v-1zM730 261v1h1v-1zM168 210v1h1v-1zM480 86v1h1v-1zM592 138v1h1v-1zM337 177v1h1v-1zM861 334v2h1v-2zM593 139v1h1v-1zM55 197v2h1v-2zM233 223v1h1v-1zM79 165v1h1v-1zM172 215v2h1v-2zM82 161v1h1v-1zM341 174v1h1v-1zM618 168v1h1v-1zM237 220v1h1v-1zM135 171v2h1v-2zM74 171v1h1v-1zM699 240v2h1v-2zM372 120v2h1v-2zM663 166v1h1v-1zM136 173v1h1v-1zM671 178v2h1v-2zM603 151v1h1v-1zM142 180v1h1v-1zM153 189v1h1v-1zM667 172v1h1v-1zM915 252v1h1v-1zM696 234v2h1v-2zM154 190v1h1v-1zM783 211v2h1v-2zM737 253v2h1v-2zM688 216v3h1v-3zM509 94v1h1v-1zM498 84v1h1v-1zM510 95v1h1v-1zM359 144v2h1v-2zM670 176v2h1v-2zM681 200v2h1v-2zM740 250v1h1v-1zM767 213v1h1v-1zM438 74v1h1v-1zM875 313v1h1v-1zM878 308v2h1v-2zM824 347v1h1v-1zM748 235v2h1v-2zM760 219v1h1v-1zM494 81v1h1v-1zM58 194v1h1v-1zM61 190v1h1v-1zM903 266v2h1v-2zM764 216v1h1v-1zM368 127v1h1v-1zM262 207v1h1v-1zM371 122v2h1v-2zM752 229v1h1v-1zM755 225v1h1v-1zM803 272v3h1v-3zM712 263v1h1v-1zM602 150v1h1v-1zM86 157v1h1v-1zM89 153v1h1v-1zM732 259v1h1v-1zM134 170v1h1v-1zM46 206v1h1v-1zM375 116v1h1v-1zM378 112v1h1v-1zM698 238v2h1v-2zM871 319v1h1v-1zM81 162v2h1v-2zM516 100v1h1v-1zM771 210v1h1v-1zM782 208v3h1v-3zM185 229v1h1v-1zM743 245v2h1v-2zM444 80v1h1v-1zM186 230v1h1v-1zM170 213v1h1v-1zM613 163v1h1v-1zM527 123v1h1v-1zM363 136v2h1v-2zM171 214v1h1v-1zM594 140v1h1v-1zM266 204v1h1v-1zM639 166v1h1v-1zM595 141v1h1v-1zM482 84v1h1v-1zM687 214v2h1v-2zM73 172v1h1v-1zM669 175v1h1v-1zM620 170v1h1v-1zM874 314v2h1v-2zM914 253v1h1v-1zM343 172v1h1v-1zM504 89v1h1v-1zM694 230v2h1v-2zM104 146v1h1v-1zM505 90v1h1v-1zM526 121v2h1v-2zM906 263v1h1v-1zM156 192v1h1v-1zM909 259v1h1v-1zM358 146v2h1v-2zM126 160v1h1v-1zM64 185v1h1v-1zM76 168v1h1v-1zM511 96v1h1v-1zM222 231v1h1v-1zM643 163v1h1v-1zM374 117v2h1v-2zM92 149v1h1v-1zM686 212v2h1v-2zM512 97v1h1v-1zM747 237v2h1v-2zM605 154v1h1v-1zM697 236v2h1v-2zM894 275v1h1v-1zM518 103v2h1v-2zM84 159v1h1v-1zM346 168v1h1v-1zM137 174v1h1v-1zM405 83v1h1v-1zM409 80v1h1v-1zM881 304v1h1v-1zM440 76v1h1v-1zM353 156v2h1v-2zM125 159v1h1v-1zM525 119v2h1v-2zM727 264v1h1v-1zM173 217v1h1v-1zM398 88v1h1v-1zM48 204v1h1v-1zM679 195v2h1v-2zM377 113v2h1v-2zM751 230v1h1v-1zM174 218v1h1v-1zM52 201v1h1v-1zM865 328v1h1v-1zM742 247v2h1v-2zM766 214v1h1v-1zM389 93v1h1v-1zM122 157v1h1v-1zM155 191v1h1v-1zM558 139v1h1v-1zM759 220v1h1v-1zM60 191v1h1v-1zM413 77v1h1v-1zM261 208v1h1v-1zM370 124v1h1v-1zM188 233v1h1v-1zM754 226v1h1v-1zM734 257v1h1v-1zM757 222v1h1v-1zM781 207v1h1v-1zM615 165v1h1v-1zM481 85v1h1v-1zM916 251v1h1v-1zM226 228v1h1v-1zM334 179v1h1v-1zM230 225v1h1v-1zM877 310v1h1v-1zM121 156v1h1v-1zM439 75v1h1v-1zM140 178v1h1v-1zM562 136v1h1v-1z" fill="#0000ff"/>
<rect x="5" y="184" width="1" height="16" fill="#ff0000"/>
<rect x="3" y="193" width="5" height="4" fill="#ff0000"/>
<rect x="4" y="194" width="3" height="2" fill="#ff4500"/>
<rect x="13" y="191" width="1" height="29" fill="#32cd32"/>
<rect x="11" y="193" width="5" height="12" fill="#32cd32"/>
<rect x="21" y="187" width="1" height="57" fill="#32cd32"/>
<rect x="19" y="205" width="5" height="17" fill="#32cd32"/>
<rect x="29" y="191" width="1" height="32" fill="#ff0000"/>
<rect x="27" y="210" width="5" height="13" fill="#ff0000"/>
<rect x="28" y="211" width="3" height="11" fill="#ff4500"/>
<rect x="37" y="197" width="1" height="13" fill="#ff0000"/>
<rect x="35" y="200" width="5" height="10" fill="#ff0000"/>
<rect x="36" y="201" width="3" height="8" fill="#ff4500"/>
<rect x="45" y="184" width="1" height="25" fill="#ff0000"/>
<rect x="43" y="198" width="5" height="11" fill="#ff0000"/>
<rect x="44" y="199" width="3" height="9" fill="#ff4500"/>
<rect x="53" y="168" width="1" height="39" fill="#ff0000"/>
<rect x="51" y="174" width="5" height="24" fill="#ff0000"/>
<rect x="52" y="175" width="3" height="22" fill="#ff4500"/>
<rect x="61" y="161" width="1" height="17" fill="#ff0000"/>
<rect x="59" y="170" width="5" height="5" fill="#ff0000"/>
<rect x="60" y="171" width="3" height="3" fill="#ff4500"/>
<rect x="69" y="141" width="1" height="33" fill="#ff0000"/>
<rect x="67" y="145" width="5" height="25" fill="#ff0000"/>
<rect x="68" y="146" width="3" height="23" fill="#ff4500"/>
<rect x="77" y="119" width="1" height="35" fill="#32cd32"/>
<rect x="75" y="146" width="5" height="3" fill="#32cd32"/>
<rect x="85" y="148" width="1" height="6" fill="#32cd32"/>
<rect x="83" y="148" width="5" height="4" fill="#32cd32"/>
<rect x="93" y="126" width="1" height="28" fill="#ff0000"/>
<rect x="91" y="128" width="5" height="20" fill="#ff0000"/>
<rect x="92" y="129" width="3" height="18" fill="#ff4500"/>
<rect x="101" y="122" width="1" height="35" fill="#32cd32"/>
<rect x="99" y="127" width="5" height="20" fill="#32cd32"/>
<rect x="109" y="144" width="1" height="26" fill="#32cd32"/>
<rect x="107" y="148" width="5" height="21" fill="#32cd32"/>
<rect x="117" y="164" width="1" height="17" fill="#32cd32"/>
<rect x="115" y="168" width="5" height="2" fill="#32cd32"/>
<rect x="125" y="164" width="1" height="27" fill="#32cd32"/>
<rect x="123" y="169" width="5" height="12" fill="#32cd32"/>
<rect x="133" y="176" width="1" height="8" fill="#32cd32"/>
<rect x="131" y="181" width="5" height="1" fill="#32cd32"/>
<rect x="141" y="181" width="1" height="17" fill="#32cd32"/>
<rect x="139" y="185" width="5" height="11" fill="#32cd32"/>
<rect x="149" y="184" width="1" height="23" fill="#32cd32"/>
<rect x="147" y="195" width="5" height="2" fill="#32cd32"/>
<rect x="157" y="190" width="1" height="28" fill="#32cd32"/>
<rect x="155" y="196" width="5" height="18" fill="#32cd32"/>
<rect x="165" y="210" width="1" height="54" fill="#32cd32"/>
<rect x="163" y="212" width="5" height="33" fill="#32cd32"/>
<rect x="173" y="215" width="1" height="36" fill="#ff0000"/>
<rect x="171" y="234" width="5" height="11" fill="#ff0000"/>
<rect x="172" y="235" width="3" height="9" fill="#ff4500"/>
<rect x="181" y="225" width="1" height="15" fill="#ff0000"/>
<rect x="179" y="232" width="5" height="4" fill="#ff0000"/>
<rect x="180" y="233" width="3" height="2" fill="#ff4500"/>
<rect x="189" y="228" width="1" height="23" fill="#32cd32"/>
<rect x="187" y="235" width="5" height="13" fill="#32cd32"/>
<rect x="197" y="227" width="1" height="27" fill="#ff0000"/>
<rect x="195" y="234" width="5" height="14" fill="#ff0000"/>
<rect x="196" y="235" width="3" height="12" fill="#ff4500"/>
<rect x="205" y="218" width="1" height="39" fill="#ff0000"/>
<rect x="203" y="231" width="5" height="4" fill="#ff0000"/>
<rect x="204" y="232" width="3" height="2" fill="#ff4500"/>
<rect x="213" y="213" width="1" height="27" fill="#ff0000"/>
<rect x="211" y="226" width="5" height="5" fill="#ff0000"/>
<rect x="212" y="227" width="3" height="3" fill="#ff4500"/>
<rect x="221" y="213" width="1" height="19" fill="#ff0000"/>
<rect x="219" y="220" width="5" height="7" fill="#ff0000"/>
<rect x="220" y="221" width="3" height="5" fill="#ff4500"/>
<rect x="229" y="220" width="1" height="7" fill="#32cd32"/>
<rect x="227" y="220" width="5" height="2" fill="#32cd32"/>
<rect x="237" y="204" width="1" height="37" fill="#ff0000"/>
<rect x="235" y="204" width="5" height="23" fill="#ff0000"/>
<rect x="236" y="205" width="3" height="21" fill="#ff4500"/>
<rect x="245" y="197" width="1" height="10" fill="#32cd32"/>
<rect x="243" y="204" width="5" height="2" fill="#32cd32"/>
<rect x="253" y="204" width="1" height="23" fill="#32cd32"/>
<rect x="251" y="205" width="5" height="10" fill="#32cd32"/>
<rect x="261" y="195" width="1" height="23" fill="#ff0000"/>
<rect x="259" y="196" width="5" height="19" fill="#ff0000"/>
<rect x="260" y="197" width="3" height="17" fill="#ff4500"/>
<rect x="269" y="189" width="1" height="15" fill="#ff0000"/>
<rect x="267" y="194" width="5" height="2" fill="#ff0000"/>
<rect x="277" y="192" width="1" height="7" fill="#32cd32"/>
<rect x="275" y="194" width="5" height="4" fill="#32cd32"/>
<rect x="285" y="195" width="1" height="16" fill="#32cd32"/>
<rect x="283" y="197" width="5" height="3" fill="#32cd32"/>
<rect x="293" y="191" width="1" height="19" fill="#ff0000"/>
<rect x="291" y="197" width="5" height="4" fill="#ff0000"/>
<rect x="292" y="198" width="3" height="2" fill="#ff4500"/>
<rect x="301" y="176" width="1" height="28" fill="#ff0000"/>
<rect x="299" y="185" width="5" height="12" fill="#ff0000"/>
<rect x="300" y="186" width="3" height="10" fill="#ff4500"/>
<rect x="309" y="168" width="1" height="22" fill="#ff0000"/>
<rect x="307" y="179" width="5" height="6" fill="#ff0000"/>
<rect x="308" y="180" width="3" height="4" fill="#ff4500"/>
<rect x="317" y="173" width="1" height="26" fill="#32cd32"/>
<rect x="315" y="180" width="5" height="6" fill="#32cd32"/>
<rect x="325" y="179" width="1" height="10" fill="#ff0000"/>
<rect x="323" y="179" width="5" height="7" fill="#ff0000"/>
<rect x="324" y="180" width="3" height="5" fill="#ff4500"/>
<rect x="333" y="172" width="1" height="19" fill="#ff0000"/>
<rect x="331" y="173" width="5" height="11" fill="#ff0000"/>
<rect x="332" y="174" width="3" height="9" fill="#ff4500"/>
<rect x="341" y="153" width="1" height="23" fill="#ff0000"/>
<rect x="339" y="155" width="5" height="18" fill="#ff0000"/>
<rect x="340" y="156" width="3" height="16" fill="#ff4500"/>
<rect x="349" y="134" width="1" height="22" fill="#ff0000"/>
<rect x="347" y="134" width="5" height="22" fill="#ff0000"/>
<rect x="348" y="135" width="3" height="20" fill="#ff4500"/>
<rect x="357" y="99" width="1" height="40" fill="#ff0000"/>
<rect x="355" y="100" width="5" height="35" fill="#ff0000"/>
<rect x="356" y="101" width="3" height="33" fill="#ff4500"/>
<rect x="365" y="97" width="1" height="8" fill="#32cd32"/>
<rect x="363" y="100" width="5" height="2" fill="#32cd32"/>
<rect x="373" y="104" width="1" height="3" fill="#32cd32"/>
<rect x="371" y="106" width="5" height="1" fill="#32cd32"/>
<rect x="381" y="96" width="1" height="12" fill="#ff0000"/>
<rect x="379" y="99" width="5" height="8" fill="#ff0000"/>
<rect x="380" y="100" width="3" height="6" fill="#ff4500"/>
<rect x="389" y="52" width="1" height="51" fill="#ff0000"/>
<rect x="387" y="59" width="5" height="41" fill="#ff0000"/>
<rect x="388" y="60" width="3" height="39" fill="#ff4500"/>
<rect x="397" y="59" width="1" height="33" fill="#32cd32"/>
<rect x="395" y="59" width="5" height="22" fill="#32cd32"/>
<rect x="405" y="54" width="1" height="28" fill="#ff0000"/>
<rect x="403" y="71" width="5" height="10" fill="#ff0000"/>
<rect x="404" y="72" width="3" height="8" fill="#ff4500"/>
<rect x="413" y="48" width="1" height="34" fill="#32cd32"/>
<rect x="411" y="71" width="5" height="6" fill="#32cd32"/>
<rect x="421" y="75" width="1" height="6" fill="#32cd32"/>
<rect x="419" y="77" width="5" height="1" fill="#32cd32"/>
<rect x="429" y="61" width="1" height="21" fill="#ff0000"/>
<rect x="427" y="70" width="5" height="6" fill="#ff0000"/>
<rect x="428" y="71" width="3" height="4" fill="#ff4500"/>
<rect x="437" y="69" width="1" height="20" fill="#32cd32"/>
<rect x="435" y="71" width="5" height="1" fill="#32cd32"/>
<rect x="445" y="70" width="1" height="42" fill="#32cd32"/>
<rect x="443" y="70" width="5" height="42" fill="#32cd32"/>
<rect x="453" y="69" width="1" height="48" fill="#ff0000"/>
<rect x="451" y="84" width="5" height="28" fill="#ff0000"/>
<rect x="452" y="85" width="3" height="26" fill="#ff4500"/>
<rect x="461" y="62" width="1" height="30" fill="#32cd32"/>
<rect x="459" y="83" width="5" height="4" fill="#32cd32"/>
<rect x="469" y="84" width="1" height="7" fill="#32cd32"/>
<rect x="467" y="86" width="5" height="1" fill="#32cd32"/>
<rect x="477" y="73" width="1" height="30" fill="#ff0000"/>
<rect x="475" y="84" width="5" height="11" fill="#ff0000"/>
<rect x="476" y="85" width="3" height="9" fill="#ff4500"/>
<rect x="485" y="55" width="1" height="42" fill="#ff0000"/>
<rect x="483" y="62" width="5" height="24" fill="#ff0000"/>
<rect x="484" y="63" width="3" height="22" fill="#ff4500"/>
<rect x="493" y="58" width="1" height="33" fill="#32cd32"/>
<rect x="491" y="62" width="5" height="22" fill="#32cd32"/>
<rect x="501" y="65" width="1" height="55" fill="#32cd32"/>
<rect x="499" y="83" width="5" height="30" fill="#32cd32"/>
<rect x="509" y="97" width="1" height="37" fill="#32cd32"/>
<rect x="507" y="113" width="5" height="16" fill="#32cd32"/>
<rect x="517" y="116" width="1" height="13" fill="#ff0000"/>
<rect x="515" y="118" width="5" height="11" fill="#ff0000"/>
<rect x="516" y="119" width="3" height="9" fill="#ff4500"/>
<rect x="525" y="125" width="1" height="41" fill="#32cd32"/>
<rect x="523" y="127" width="5" height="30" fill="#32cd32"/>
<rect x="533" y="139" width="1" height="27" fill="#ff0000"/>
<rect x="531" y="142" width="5" height="15" fill="#ff0000"/>
<rect x="532" y="143" width="3" height="13" fill="#ff4500"/>
<rect x="541" y="136" width="1" height="27" fill="#ff0000"/>
<rect x="539" y="140" width="5" height="2" fill="#ff0000"/>
<rect x="549" y="129" width="1" height="23" fill="#ff0000"/>
<rect x="547" y="133" width="5" height="8" fill="#ff0000"/>
<rect x="548" y="134" width="3" height="6" fill="#ff4500"/>
<rect x="557" y="121" width="1" height="23" fill="#ff0000"/>
<rect x="555" y="129" width="5" height="5" fill="#ff0000"/>
<rect x="556" y="130" width="3" height="3" fill="#ff4500"/>
<rect x="565" y="127" width="1" height="8" fill="#ff0000"/>
<rect x="563" y="127" width="5" height="3" fill="#ff0000"/>
<rect x="564" y="128" width="3" height="1" fill="#ff4500"/>
<rect x="573" y="121" width="1" height="26" fill="#32cd32"/>
<rect x="571" y="130" width="5" height="16" fill="#32cd32"/>
<rect x="581" y="122" width="1" height="25" fill="#ff0000"/>
<rect x="579" y="131" width="5" height="15" fill="#ff0000"/>
<rect x="580" y="132" width="3" height="13" fill="#ff4500"/>
<rect x="589" y="123" width="1" height="32" fill="#32cd32"/>
<rect x="587" y="131" width="5" height="11" fill="#32cd32"/>
<rect x="597" y="135" width="1" height="40" fill="#32cd32"/>
<rect x="595" y="140" width="5" height="32" fill="#32cd32"/>
<rect x="605" y="169" width="1" height="23" fill="#32cd32"/>
<rect x="603" y="171" width="5" height="13" fill="#32cd32"/>
<rect x="613" y="183" width="1" height="9" fill="#32cd32"/>
<rect x="611" y="183" width="5" height="6" fill="#32cd32"/>
<rect x="621" y="157" width="1" height="31" fill="#ff0000"/>
<rect x="619" y="171" width="5" height="15" fill="#ff0000"/>
<rect x="620" y="172" width="3" height="13" fill="#ff4500"/>
<rect x="629" y="139" width="1" height="37" fill="#ff0000"/>
<rect x="627" y="142" width="5" height="30" fill="#ff0000"/>
<rect x="628" y="143" width="3" height="28" fill="#ff4500"/>
<rect x="637" y="135" width="1" height="31" fill="#32cd32"/>
<rect x="635" y="142" width="5" height="14" fill="#32cd32"/>
<rect x="645" y="135" width="1" height="23" fill="#ff0000"/>
<rect x="643" y="150" width="5" height="6" fill="#ff0000"/>
<rect x="644" y="151" width="3" height="4" fill="#ff4500"/>
<rect x="653" y="146" width="1" height="34" fill="#32cd32"/>
<rect x="651" y="150" width="5" height="27" fill="#32cd32"/>
<rect x="661" y="175" width="1" height="22" fill="#32cd32"/>
<rect x="659" y="176" width="5" height="18" fill="#32cd32"/>
<rect x="669" y="197" width="1" height="29" fill="#32cd32"/>
<rect x="667" y="198" width="5" height="3" fill="#32cd32"/>
<rect x="677" y="200" width="1" height="59" fill="#32cd32"/>
<rect x="675" y="200" width="5" height="35" fill="#32cd32"/>
<rect x="685" y="232" width="1" height="57" fill="#32cd32"/>
<rect x="683" y="234" width="5" height="14" fill="#32cd32"/>
<rect x="693" y="221" width="1" height="52" fill="#32cd32"/>
<rect x="691" y="247" width="5" height="23" fill="#32cd32"/>
<rect x="701" y="228" width="1" height="57" fill="#32cd32"/>
<rect x="699" y="268" width="5" height="8" fill="#32cd32"/>
<rect x="709" y="276" width="1" height="10" fill="#32cd32"/>
<rect x="707" y="276" width="5" height="5" fill="#32cd32"/>
<rect x="717" y="247" width="1" height="18" fill="#ff0000"/>
<rect x="715" y="260" width="5" height="1" fill="#ff0000"/>
<rect x="725" y="237" width="1" height="32" fill="#ff0000"/>
<rect x="723" y="244" width="5" height="17" fill="#ff0000"/>
<rect x="724" y="245" width="3" height="15" fill="#ff4500"/>
<rect x="733" y="225" width="1" height="33" fill="#ff0000"/>
<rect x="731" y="232" width="5" height="12" fill="#ff0000"/>
<rect x="732" y="233" width="3" height="10" fill="#ff4500"/>
<rect x="741" y="222" width="1" height="27" fill="#ff0000"/>
<rect x="739" y="231" width="5" height="2" fill="#ff0000"/>
<rect x="749" y="200" width="1" height="44" fill="#ff0000"/>
<rect x="747" y="202" width="5" height="30" fill="#ff0000"/>
<rect x="748" y="203" width="3" height="28" fill="#ff4500"/>
<rect x="757" y="200" width="1" height="7" fill="#ff0000"/>
<rect x="755" y="202" width="5" height="1" fill="#ff0000"/>
<rect x="765" y="197" width="1" height="22" fill="#32cd32"/>
<rect x="763" y="207" width="5" height="1" fill="#32cd32"/>
<rect x="773" y="194" width="1" height="25" fill="#ff0000"/>
<rect x="771" y="200" width="5" height="8" fill="#ff0000"/>
<rect x="772" y="201" width="3" height="6" fill="#ff4500"/>
<rect x="781" y="194" width="1" height="35" fill="#32cd32"/>
<rect x="779" y="200" width="5" height="22" fill="#32cd32"/>
<rect x="789" y="219" width="1" height="95" fill="#32cd32"/>
<rect x="787" y="221" width="5" height="87" fill="#32cd32"/>
<rect x="797" y="298" width="1" height="33" fill="#32cd32"/>
<rect x="795" y="308" width="5" height="22" fill="#32cd32"/>
<rect x="805" y="329" width="1" height="16" fill="#32cd32"/>
<rect x="803" y="329" width="5" height="13" fill="#32cd32"/>
<rect x="813" y="333" width="1" height="46" fill="#32cd32"/>
<rect x="811" y="347" width="5" height="26" fill="#32cd32"/>
<rect x="821" y="338" width="1" height="52" fill="#ff0000"/>
<rect x="819" y="368" width="5" height="5" fill="#ff0000"/>
<rect x="820" y="369" width="3" height="3" fill="#ff4500"/>
<rect x="829" y="332" width="1" height="39" fill="#ff0000"/>
<rect x="827" y="346" width="5" height="23" fill="#ff0000"/>
<rect x="828" y="347" width="3" height="21" fill="#ff4500"/>
<rect x="837" y="313" width="1" height="34" fill="#ff0000"/>
<rect x="835" y="344" width="5" height="3" fill="#ff0000"/>
<rect x="836" y="345" width="3" height="1" fill="#ff4500"/>
<rect x="845" y="339" width="1" height="20" fill="#32cd32"/>
<rect x="843" y="343" width="5" height="6" fill="#32cd32"/>
<rect x="853" y="338" width="1" height="14" fill="#32cd32"/>
<rect x="851" y="348" width="5" height="4" fill="#32cd32"/>
<rect x="861" y="280" width="1" height="51" fill="#ff0000"/>
<rect x="859" y="282" width="5" height="46" fill="#ff0000"/>
<rect x="860" y="283" width="3" height="44" fill="#ff4500"/>
<rect x="869" y="266" width="1" height="21" fill="#32cd32"/>
<rect x="867" y="282" width="5" height="4" fill="#32cd32"/>
<rect x="877" y="280" width="1" height="22" fill="#ff0000"/>
<rect x="875" y="282" width="5" height="3" fill="#ff0000"/>
<rect x="876" y="283" width="3" height="1" fill="#ff4500"/>
<rect x="885" y="280" width="1" height="12" fill="#32cd32"/>
<rect x="883" y="281" width="5" height="8" fill="#32cd32"/>
<rect x="893" y="239" width="1" height="58" fill="#ff0000"/>
<rect x="891" y="244" width="5" height="46" fill="#ff0000"/>
<rect x="892" y="245" width="3" height="44" fill="#ff4500"/>
<rect x="901" y="242" width="1" height="8" fill="#32cd32"/>
<rect x="899" y="244" width="5" height="4" fill="#32cd32"/>
<rect x="909" y="230" width="1" height="30" fill="#ff0000"/>
<rect x="907" y="236" width="5" height="16" fill="#ff0000"/>
<rect x="908" y="237" width="3" height="14" fill="#ff4500"/>
<rect x="917" y="230" width="1" height="13" fill="#ff0000"/>
<rect x="915" y="235" width="5" height="1" fill="#ff0000"/>
<rect x="674" y="188" width="297" height="6" fill="#ff2020"/>
<rect x="675" y="189" width="295" height="4" fill="#fc3a3a"/>
<rect x="673" y="274" width="296" height="5" fill="#99cc00"/>
<rect x="675" y="383" width="299" height="5" fill="#2387e0"/>
<rect x="676" y="384" width="297" height="3" fill="#3a95e5"/>
</g>
<path d="M8,40 L15,40 L11.5,36 Z" fill="#000" shape-rendering="auto"/>
<text x="20.3" y="41" font-size="10.1" fill="#000" textLength="64.2" lengthAdjust="spacingAndGlyphs" stroke="#000" stroke-width="0.15">USDCHF,Daily</text>
<text x="90.6" y="41" font-size="10.1" fill="#000" textLength="141.5" lengthAdjust="spacingAndGlyphs" stroke="#000" stroke-width="0.15">0.99375 0.99461 0.99265 0.99389</text>
<rect x="8" y="73" width="109" height="40" fill="#b80000"/>
<rect x="9" y="74" width="107" height="38" fill="url(#gpan)"/>
<rect x="119" y="73" width="108" height="40" fill="#b80000"/>
<rect x="120" y="74" width="106" height="38" fill="url(#gpan)"/>
<rect x="8" y="49" width="52" height="25" fill="#c00000"/>
<rect x="9" y="50" width="50" height="24" fill="url(#gbtn)"/>
<rect x="175" y="49" width="52" height="25" fill="#c00000"/>
<rect x="176" y="50" width="50" height="24" fill="url(#gbtn)"/>
<rect x="12" y="72" width="45" height="1" fill="#8a0000"/>
<rect x="12" y="73" width="45" height="1" fill="#f07070"/>
<rect x="179" y="72" width="44" height="1" fill="#8a0000"/>
<rect x="179" y="73" width="44" height="1" fill="#f07070"/>
<rect x="60" y="49" width="115" height="24" fill="#ffffff"/>
<rect x="62" y="49" width="111" height="22" fill="#a9aeb6"/>
<rect x="63" y="50" width="109" height="20" fill="#ffffff"/>
<rect x="64" y="51" width="19" height="18" fill="url(#gspin)"/>
<rect x="83" y="50" width="1" height="20" fill="#a9aeb6"/>
<rect x="151" y="50" width="1" height="20" fill="#a9aeb6"/>
<rect x="152" y="51" width="19" height="18" fill="url(#gspin)"/>
<path d="M70,58 L75.2,58 L72.6,61 Z" fill="#4a5cc4" shape-rendering="auto"/>
<path d="M159,61 L164.2,61 L161.6,58 Z" fill="#4a5cc4" shape-rendering="auto"/>
<text x="123.8" y="64" font-size="12.6" fill="#000" textLength="24.6" lengthAdjust="spacingAndGlyphs">5.00</text>
<text x="19.6" y="65" font-size="12.4" fill="#ffffff" textLength="27" lengthAdjust="spacingAndGlyphs">SELL</text>
<text x="188.2" y="65" font-size="12.4" fill="#ffffff" textLength="24.4" lengthAdjust="spacingAndGlyphs">BUY</text>
<text x="27.3" y="104" font-size="12.6" fill="#ffffff" textLength="25.6" lengthAdjust="spacingAndGlyphs" font-weight="bold">0.99</text>
<text x="56.2" y="104" font-size="34.6" fill="#ffffff" textLength="35.4" lengthAdjust="spacingAndGlyphs" stroke="#c41818" stroke-width="0.45">38</text>
<text x="94.8" y="88" font-size="11.4" fill="#ffffff" textLength="7.4" lengthAdjust="spacingAndGlyphs" font-weight="bold">9</text>
<text x="137.3" y="104" font-size="12.6" fill="#ffffff" textLength="25.6" lengthAdjust="spacingAndGlyphs" font-weight="bold">0.99</text>
<text x="165.3" y="104" font-size="34.6" fill="#ffffff" textLength="38.4" lengthAdjust="spacingAndGlyphs" stroke="#c41818" stroke-width="0.45">41</text>
<text x="206.3" y="88" font-size="11.4" fill="#ffffff" textLength="6.6" lengthAdjust="spacingAndGlyphs" font-weight="bold">5</text>
<rect x="1168" y="32" width="2" height="1" fill="#000"/>
<text x="1172.6" y="36" font-size="10.1" fill="#000" textLength="33.6" lengthAdjust="spacingAndGlyphs" stroke="#000" stroke-width="0.15">1.02610</text>
<rect x="1168" y="65" width="2" height="1" fill="#000"/>
<text x="1172.6" y="69" font-size="10.1" fill="#000" textLength="33.6" lengthAdjust="spacingAndGlyphs" stroke="#000" stroke-width="0.15">1.02085</text>
<rect x="1168" y="98" width="2" height="1" fill="#000"/>
<text x="1172.6" y="102" font-size="10.1" fill="#000" textLength="33.6" lengthAdjust="spacingAndGlyphs" stroke="#000" stroke-width="0.15">1.01560</text>
<rect x="1168" y="131" width="2" height="1" fill="#000"/>
<text x="1172.6" y="135" font-size="10.1" fill="#000" textLength="33.6" lengthAdjust="spacingAndGlyphs" stroke="#000" stroke-width="0.15">1.01035</text>
<rect x="1168" y="164" width="2" height="1" fill="#000"/>
<text x="1172.6" y="168" font-size="10.1" fill="#000" textLength="33.6" lengthAdjust="spacingAndGlyphs" stroke="#000" stroke-width="0.15">1.00510</text>
<rect x="1168" y="197" width="2" height="1" fill="#000"/>
<text x="1172.6" y="201" font-size="10.1" fill="#000" textLength="33.6" lengthAdjust="spacingAndGlyphs" stroke="#000" stroke-width="0.15">0.99985</text>
<rect x="1168" y="230" width="2" height="1" fill="#000"/>
<text x="1172.6" y="234" font-size="10.1" fill="#000" textLength="33.6" lengthAdjust="spacingAndGlyphs" stroke="#000" stroke-width="0.15">0.99460</text>
<rect x="1168" y="263" width="2" height="1" fill="#000"/>
<text x="1172.6" y="267" font-size="10.1" fill="#000" textLength="33.6" lengthAdjust="spacingAndGlyphs" stroke="#000" stroke-width="0.15">0.98935</text>
<rect x="1168" y="296" width="2" height="1" fill="#000"/>
<text x="1172.6" y="300" font-size="10.1" fill="#000" textLength="33.6" lengthAdjust="spacingAndGlyphs" stroke="#000" stroke-width="0.15">0.98410</text>
<rect x="1168" y="329" width="2" height="1" fill="#000"/>
<text x="1172.6" y="333" font-size="10.1" fill="#000" textLength="33.6" lengthAdjust="spacingAndGlyphs" stroke="#000" stroke-width="0.15">0.97885</text>
<rect x="1168" y="362" width="2" height="1" fill="#000"/>
<text x="1172.6" y="366" font-size="10.1" fill="#000" textLength="33.6" lengthAdjust="spacingAndGlyphs" stroke="#000" stroke-width="0.15">0.97360</text>
<rect x="1168" y="395" width="2" height="1" fill="#000"/>
<text x="1172.6" y="399" font-size="10.1" fill="#000" textLength="33.6" lengthAdjust="spacingAndGlyphs" stroke="#000" stroke-width="0.15">0.96835</text>
<rect x="1169" y="229" width="39" height="11" fill="#000"/>
<rect x="1168" y="229" width="1" height="1" fill="#000"/>
<text x="1172.6" y="238" font-size="10.1" fill="#ffffff" textLength="33.6" lengthAdjust="spacingAndGlyphs">0.99389</text>
<rect x="1168" y="402" width="2" height="1" fill="#000"/>
<text x="1170.8" y="411" font-size="10.1" fill="#000" textLength="38.6" lengthAdjust="spacingAndGlyphs" stroke="#000" stroke-width="0.15">0.005986</text>
<rect x="1168" y="428" width="2" height="1" fill="#000"/>
<text x="1170.8" y="432" font-size="10.1" fill="#000" textLength="18.2" lengthAdjust="spacingAndGlyphs" stroke="#000" stroke-width="0.15">0.00</text>
<rect x="1168" y="462" width="2" height="1" fill="#000"/>
<text x="1170.5" y="460" font-size="10.1" fill="#000" textLength="43.4" lengthAdjust="spacingAndGlyphs" stroke="#000" stroke-width="0.15">-0.007737</text>
<rect x="1168" y="467" width="2" height="1" fill="#000"/>
<text x="1171" y="476" font-size="10.1" fill="#000" textLength="15.2" lengthAdjust="spacingAndGlyphs" stroke="#000" stroke-width="0.15">100</text>
<text x="1170.4" y="493" font-size="10.1" fill="#000" textLength="10.2" lengthAdjust="spacingAndGlyphs" stroke="#000" stroke-width="0.15">70</text>
<text x="1170.4" y="523" font-size="10.1" fill="#000" textLength="10.2" lengthAdjust="spacingAndGlyphs" stroke="#000" stroke-width="0.15">30</text>
<rect x="1168" y="541" width="1" height="1" fill="#000"/>
<text x="1170.8" y="539" font-size="10.1" fill="#000" textLength="5.2" lengthAdjust="spacingAndGlyphs" stroke="#000" stroke-width="0.15">0</text>
<g clip-path="url(#cd)">
<rect x="4" y="423" width="3" height="5" fill="#c0c0c0"/>
<rect x="12" y="424" width="3" height="4" fill="#c0c0c0"/>
<rect x="20" y="426" width="3" height="2" fill="#c0c0c0"/>
<rect x="28" y="427" width="3" height="1" fill="#c0c0c0"/>
<rect x="36" y="427" width="3" height="1" fill="#c0c0c0"/>
<rect x="44" y="427" width="3" height="1" fill="#c0c0c0"/>
<rect x="52" y="426" width="3" height="2" fill="#c0c0c0"/>
<rect x="60" y="424" width="3" height="4" fill="#c0c0c0"/>
<rect x="68" y="422" width="3" height="6" fill="#c0c0c0"/>
<rect x="76" y="420" width="3" height="8" fill="#c0c0c0"/>
<rect x="84" y="419" width="3" height="9" fill="#c0c0c0"/>
<rect x="92" y="417" width="3" height="11" fill="#c0c0c0"/>
<rect x="100" y="417" width="3" height="11" fill="#c0c0c0"/>
<rect x="108" y="418" width="3" height="10" fill="#c0c0c0"/>
<rect x="116" y="419" width="3" height="9" fill="#c0c0c0"/>
<rect x="124" y="421" width="3" height="7" fill="#c0c0c0"/>
<rect x="132" y="422" width="3" height="6" fill="#c0c0c0"/>
<rect x="140" y="424" width="3" height="4" fill="#c0c0c0"/>
<rect x="148" y="426" width="3" height="2" fill="#c0c0c0"/>
<rect x="156" y="428" width="3" height="1" fill="#c0c0c0"/>
<rect x="164" y="428" width="3" height="4" fill="#c0c0c0"/>
<rect x="172" y="428" width="3" height="6" fill="#c0c0c0"/>
<rect x="180" y="428" width="3" height="7" fill="#c0c0c0"/>
<rect x="188" y="428" width="3" height="9" fill="#c0c0c0"/>
<rect x="196" y="428" width="3" height="10" fill="#c0c0c0"/>
<rect x="204" y="428" width="3" height="10" fill="#c0c0c0"/>
<rect x="212" y="428" width="3" height="10" fill="#c0c0c0"/>
<rect x="220" y="428" width="3" height="10" fill="#c0c0c0"/>
<rect x="228" y="428" width="3" height="9" fill="#c0c0c0"/>
<rect x="236" y="428" width="3" height="8" fill="#c0c0c0"/>
<rect x="244" y="428" width="3" height="6" fill="#c0c0c0"/>
<rect x="252" y="428" width="3" height="6" fill="#c0c0c0"/>
<rect x="260" y="428" width="3" height="5" fill="#c0c0c0"/>
<rect x="268" y="428" width="3" height="3" fill="#c0c0c0"/>
<rect x="276" y="428" width="3" height="2" fill="#c0c0c0"/>
<rect x="284" y="428" width="3" height="2" fill="#c0c0c0"/>
<rect x="292" y="428" width="3" height="1" fill="#c0c0c0"/>
<rect x="300" y="428" width="3" height="1" fill="#c0c0c0"/>
<rect x="308" y="427" width="3" height="1" fill="#c0c0c0"/>
<rect x="316" y="426" width="3" height="2" fill="#c0c0c0"/>
<rect x="324" y="425" width="3" height="3" fill="#c0c0c0"/>
<rect x="332" y="424" width="3" height="4" fill="#c0c0c0"/>
<rect x="340" y="423" width="3" height="5" fill="#c0c0c0"/>
<rect x="348" y="420" width="3" height="8" fill="#c0c0c0"/>
<rect x="356" y="416" width="3" height="12" fill="#c0c0c0"/>
<rect x="364" y="413" width="3" height="15" fill="#c0c0c0"/>
<rect x="372" y="412" width="3" height="16" fill="#c0c0c0"/>
<rect x="380" y="410" width="3" height="18" fill="#c0c0c0"/>
<rect x="388" y="407" width="3" height="21" fill="#c0c0c0"/>
<rect x="396" y="406" width="3" height="22" fill="#c0c0c0"/>
<rect x="404" y="404" width="3" height="24" fill="#c0c0c0"/>
<rect x="412" y="404" width="3" height="24" fill="#c0c0c0"/>
<rect x="420" y="404" width="3" height="24" fill="#c0c0c0"/>
<rect x="428" y="404" width="3" height="24" fill="#c0c0c0"/>
<rect x="436" y="404" width="3" height="24" fill="#c0c0c0"/>
<rect x="444" y="407" width="3" height="21" fill="#c0c0c0"/>
<rect x="452" y="408" width="3" height="20" fill="#c0c0c0"/>
<rect x="460" y="409" width="3" height="19" fill="#c0c0c0"/>
<rect x="468" y="410" width="3" height="18" fill="#c0c0c0"/>
<rect x="476" y="411" width="3" height="17" fill="#c0c0c0"/>
<rect x="484" y="411" width="3" height="17" fill="#c0c0c0"/>
<rect x="492" y="412" width="3" height="16" fill="#c0c0c0"/>
<rect x="500" y="415" width="3" height="13" fill="#c0c0c0"/>
<rect x="508" y="418" width="3" height="10" fill="#c0c0c0"/>
<rect x="516" y="420" width="3" height="8" fill="#c0c0c0"/>
<rect x="524" y="424" width="3" height="4" fill="#c0c0c0"/>
<rect x="532" y="426" width="3" height="2" fill="#c0c0c0"/>
<rect x="540" y="428" width="3" height="1" fill="#c0c0c0"/>
<rect x="548" y="428" width="3" height="1" fill="#c0c0c0"/>
<rect x="556" y="428" width="3" height="1" fill="#c0c0c0"/>
<rect x="564" y="428" width="3" height="2" fill="#c0c0c0"/>
<rect x="572" y="428" width="3" height="3" fill="#c0c0c0"/>
<rect x="580" y="428" width="3" height="3" fill="#c0c0c0"/>
<rect x="588" y="428" width="3" height="4" fill="#c0c0c0"/>
<rect x="596" y="428" width="3" height="6" fill="#c0c0c0"/>
<rect x="604" y="428" width="3" height="8" fill="#c0c0c0"/>
<rect x="612" y="428" width="3" height="11" fill="#c0c0c0"/>
<rect x="620" y="428" width="3" height="11" fill="#c0c0c0"/>
<rect x="628" y="428" width="3" height="10" fill="#c0c0c0"/>
<rect x="636" y="428" width="3" height="9" fill="#c0c0c0"/>
<rect x="644" y="428" width="3" height="8" fill="#c0c0c0"/>
<rect x="652" y="428" width="3" height="9" fill="#c0c0c0"/>
<rect x="660" y="428" width="3" height="11" fill="#c0c0c0"/>
<rect x="668" y="428" width="3" height="12" fill="#c0c0c0"/>
<rect x="676" y="428" width="3" height="15" fill="#c0c0c0"/>
<rect x="684" y="428" width="3" height="18" fill="#c0c0c0"/>
<rect x="692" y="428" width="3" height="22" fill="#c0c0c0"/>
<rect x="700" y="428" width="3" height="25" fill="#c0c0c0"/>
<rect x="708" y="428" width="3" height="27" fill="#c0c0c0"/>
<rect x="716" y="428" width="3" height="27" fill="#c0c0c0"/>
<rect x="724" y="428" width="3" height="26" fill="#c0c0c0"/>
<rect x="732" y="428" width="3" height="24" fill="#c0c0c0"/>
<rect x="740" y="428" width="3" height="22" fill="#c0c0c0"/>
<rect x="748" y="428" width="3" height="19" fill="#c0c0c0"/>
<rect x="756" y="428" width="3" height="16" fill="#c0c0c0"/>
<rect x="764" y="428" width="3" height="14" fill="#c0c0c0"/>
<rect x="772" y="428" width="3" height="12" fill="#c0c0c0"/>
<rect x="780" y="428" width="3" height="11" fill="#c0c0c0"/>
<rect x="788" y="428" width="3" height="16" fill="#c0c0c0"/>
<rect x="796" y="428" width="3" height="20" fill="#c0c0c0"/>
<rect x="804" y="428" width="3" height="25" fill="#c0c0c0"/>
<rect x="812" y="428" width="3" height="29" fill="#c0c0c0"/>
<rect x="820" y="428" width="3" height="32" fill="#c0c0c0"/>
<rect x="828" y="428" width="3" height="33" fill="#c0c0c0"/>
<rect x="836" y="428" width="3" height="33" fill="#c0c0c0"/>
<rect x="844" y="428" width="3" height="33" fill="#c0c0c0"/>
<rect x="852" y="428" width="3" height="33" fill="#c0c0c0"/>
<rect x="860" y="428" width="3" height="28" fill="#c0c0c0"/>
<rect x="868" y="428" width="3" height="25" fill="#c0c0c0"/>
<rect x="876" y="428" width="3" height="21" fill="#c0c0c0"/>
<rect x="884" y="428" width="3" height="19" fill="#c0c0c0"/>
<rect x="892" y="428" width="3" height="14" fill="#c0c0c0"/>
<rect x="900" y="428" width="3" height="10" fill="#c0c0c0"/>
<rect x="908" y="428" width="3" height="7" fill="#c0c0c0"/>
<rect x="916" y="428" width="3" height="4" fill="#c0c0c0"/>
<path d="M217 435h8v1h-8zM265 435h8v1h-8zM633 435h16v1h-16zM657 437h16v1h-16zM433 406h8v1h-8zM465 406h16v1h-16zM415 409h4v1h-4zM497 409h6v1h-6zM41 424h16v1h-16zM65 424h24v1h-24zM171 424h4v1h-4zM353 424h6v1h-6zM563 424h4v1h-4zM719 447h4v1h-4zM777 447h6v1h-6zM817 447h6v1h-6zM912 447h2v1h-2zM203 432h4v1h-4zM289 432h8v1h-8zM609 432h8v1h-8zM395 414h4v1h-4zM523 414h4v1h-4zM715 446h4v1h-4zM783 446h4v1h-4zM809 446h8v1h-8zM914 446h2v1h-2zM225 436h40v1h-40zM649 436h8v1h-8zM865 458h8v1h-8zM15 419h4v1h-4zM121 419h24v1h-24zM375 419h4v1h-4zM543 419h4v1h-4zM57 425h8v1h-8zM175 425h4v1h-4zM345 425h8v1h-8zM567 425h4v1h-4zM419 408h6v1h-6zM489 408h8v1h-8zM207 433h4v1h-4zM281 433h8v1h-8zM617 433h8v1h-8zM31 422h4v1h-4zM97 422h8v1h-8zM161 422h6v1h-6zM363 422h4v1h-4zM555 422h4v1h-4zM441 405h24v1h-24zM183 427h4v1h-4zM329 427h8v1h-8zM577 427h8v1h-8zM19 420h6v1h-6zM113 420h8v1h-8zM145 420h8v1h-8zM371 420h4v1h-4zM547 420h4v1h-4zM729 449h8v1h-8zM767 449h4v1h-4zM827 449h4v1h-4zM908 449h2v1h-2zM681 439h8v1h-8zM35 423h6v1h-6zM89 423h8v1h-8zM167 423h4v1h-4zM359 423h4v1h-4zM559 423h4v1h-4zM745 451h16v1h-16zM835 451h4v1h-4zM903 451h2v1h-2zM9 418h6v1h-6zM379 418h4v1h-4zM539 418h4v1h-4zM211 434h6v1h-6zM273 434h8v1h-8zM625 434h8v1h-8zM199 431h4v1h-4zM297 431h8v1h-8zM601 431h8v1h-8zM852 456h5v1h-5zM881 456h6v1h-6zM5 417h4v1h-4zM383 417h4v1h-4zM535 417h4v1h-4zM411 410h4v1h-4zM503 410h4v1h-4zM723 448h6v1h-6zM771 448h6v1h-6zM823 448h4v1h-4zM910 448h2v1h-2zM179 426h4v1h-4zM337 426h8v1h-8zM571 426h6v1h-6zM673 438h8v1h-8zM425 407h8v1h-8zM481 407h8v1h-8zM737 450h8v1h-8zM761 450h6v1h-6zM831 450h4v1h-4zM905 450h3v1h-3zM847 454h2v1h-2zM891 454h4v1h-4zM391 415h4v1h-4zM527 415h4v1h-4zM407 411h4v1h-4zM507 411h6v1h-6zM187 428h4v1h-4zM321 428h8v1h-8zM585 428h6v1h-6zM843 453h4v1h-4zM895 453h4v1h-4zM699 442h4v1h-4zM711 445h4v1h-4zM787 445h22v1h-22zM916 445h2v1h-2zM707 444h4v1h-4zM857 457h8v1h-8zM873 457h8v1h-8zM195 430h4v1h-4zM305 430h8v1h-8zM595 430h6v1h-6zM703 443h4v1h-4zM403 412h4v1h-4zM513 412h6v1h-6zM25 421h6v1h-6zM105 421h8v1h-8zM153 421h8v1h-8zM367 421h4v1h-4zM551 421h4v1h-4zM839 452h4v1h-4zM899 452h4v1h-4zM191 429h4v1h-4zM313 429h8v1h-8zM591 429h4v1h-4zM689 440h6v1h-6zM387 416h4v1h-4zM531 416h4v1h-4zM399 413h4v1h-4zM519 413h4v1h-4zM849 455h3v1h-3zM887 455h4v1h-4zM695 441h4v1h-4z" fill="#ff0000"/>
</g>
<text x="9.3" y="413" font-size="10.1" fill="#000" textLength="153.5" lengthAdjust="spacingAndGlyphs" stroke="#000" stroke-width="0.15">MACD(12,26,9) -0.000677 -0.003774</text>
<g clip-path="url(#cr)">
<line x1="6" y1="489.5" x2="1167" y2="489.5" stroke="#c0c0c0" stroke-width="1" stroke-dasharray="3,3"/>
<line x1="6" y1="519.5" x2="1167" y2="519.5" stroke="#c0c0c0" stroke-width="1" stroke-dasharray="3,3"/>
<path d="M165 518h2v1h-2zM676 518h5v1h-5zM715 518h2v1h-2zM829 518h20v1h-20zM12 505h2v1h-2zM33 505h3v1h-3zM124 505h11v1h-11zM247 505h2v1h-2zM255 505h2v1h-2zM503 505h2v1h-2zM515 505h3v1h-3zM561 505h5v1h-5zM629 505h2v1h-2zM747 505h2v1h-2zM759 505h4v1h-4zM767 505h4v1h-4zM774 505h2v1h-2zM861 505h4v1h-4zM873 505h8v1h-8zM62 495h2v1h-2zM331 495h3v1h-3zM453 495h4v1h-4zM478 495h2v1h-2zM47 501h2v1h-2zM109 501h9v1h-9zM261 501h12v1h-12zM291 501h4v1h-4zM15 507h2v1h-2zM28 507h3v1h-3zM137 507h3v1h-3zM231 507h2v1h-2zM252 507h2v1h-2zM508 507h3v1h-3zM519 507h2v1h-2zM545 507h8v1h-8zM568 507h2v1h-2zM577 507h3v1h-3zM583 507h4v1h-4zM635 507h6v1h-6zM646 507h2v1h-2zM778 507h2v1h-2zM354 484h2v1h-2zM361 484h6v1h-6zM382 484h2v1h-2zM7 503h2v1h-2zM41 503h5v1h-5zM120 503h2v1h-2zM237 503h4v1h-4zM281 503h6v1h-6zM499 503h2v1h-2zM67 492h2v1h-2zM73 492h8v1h-8zM86 492h2v1h-2zM338 492h2v1h-2zM484 492h2v1h-2zM26 508h2v1h-2zM140 508h11v1h-11zM219 508h6v1h-6zM532 508h13v1h-13zM570 508h2v1h-2zM575 508h2v1h-2zM587 508h3v1h-3zM648 508h2v1h-2zM743 508h2v1h-2zM780 508h2v1h-2zM53 497h4v1h-4zM103 497h2v1h-2zM303 497h4v1h-4zM311 497h2v1h-2zM323 497h4v1h-4zM449 497h2v1h-2zM491 497h2v1h-2zM352 485h2v1h-2zM367 485h4v1h-4zM377 485h5v1h-5zM393 485h2v1h-2zM681 519h6v1h-6zM789 519h2v1h-2zM827 519h2v1h-2zM849 519h5v1h-5zM31 506h2v1h-2zM135 506h2v1h-2zM249 506h3v1h-3zM505 506h3v1h-3zM511 506h4v1h-4zM553 506h8v1h-8zM566 506h2v1h-2zM580 506h3v1h-3zM627 506h2v1h-2zM631 506h4v1h-4zM641 506h5v1h-5zM763 506h4v1h-4zM776 506h2v1h-2zM865 506h8v1h-8zM881 506h5v1h-5zM107 500h2v1h-2zM295 500h2v1h-2zM495 500h2v1h-2zM897 500h6v1h-6zM350 486h2v1h-2zM371 486h6v1h-6zM24 509h2v1h-2zM151 509h2v1h-2zM215 509h4v1h-4zM225 509h5v1h-5zM529 509h3v1h-3zM572 509h3v1h-3zM590 509h2v1h-2zM623 509h2v1h-2zM650 509h2v1h-2zM65 493h2v1h-2zM81 493h5v1h-5zM336 493h2v1h-2zM482 493h2v1h-2zM161 515h2v1h-2zM172 515h5v1h-5zM183 515h4v1h-4zM190 515h2v1h-2zM603 515h11v1h-11zM670 515h2v1h-2zM720 515h2v1h-2zM196 512h5v1h-5zM595 512h2v1h-2zM618 512h2v1h-2zM657 512h3v1h-3zM727 512h4v1h-4zM51 498h2v1h-2zM300 498h3v1h-3zM313 498h3v1h-3zM319 498h4v1h-4zM907 498h11v1h-11zM9 504h3v1h-3zM36 504h5v1h-5zM122 504h2v1h-2zM235 504h2v1h-2zM241 504h6v1h-6zM501 504h2v1h-2zM749 504h10v1h-10zM771 504h3v1h-3zM57 496h5v1h-5zM307 496h4v1h-4zM327 496h4v1h-4zM451 496h2v1h-2zM457 496h21v1h-21zM169 516h3v1h-3zM187 516h3v1h-3zM672 516h2v1h-2zM718 516h2v1h-2zM19 510h2v1h-2zM22 510h2v1h-2zM153 510h3v1h-3zM209 510h6v1h-6zM523 510h2v1h-2zM527 510h2v1h-2zM652 510h3v1h-3zM737 510h5v1h-5zM194 513h2v1h-2zM597 513h2v1h-2zM616 513h2v1h-2zM660 513h5v1h-5zM724 513h3v1h-3zM5 502h2v1h-2zM118 502h2v1h-2zM259 502h2v1h-2zM273 502h8v1h-8zM287 502h4v1h-4zM889 502h2v1h-2zM92 489h2v1h-2zM344 489h2v1h-2zM411 489h14v1h-14zM177 514h6v1h-6zM192 514h2v1h-2zM599 514h4v1h-4zM614 514h2v1h-2zM665 514h5v1h-5zM722 514h2v1h-2zM388 481h2v1h-2zM692 522h13v1h-13zM801 522h6v1h-6zM822 522h2v1h-2zM156 511h2v1h-2zM201 511h8v1h-8zM525 511h2v1h-2zM593 511h2v1h-2zM620 511h2v1h-2zM655 511h2v1h-2zM731 511h6v1h-6zM705 523h5v1h-5zM807 523h4v1h-4zM817 523h5v1h-5zM346 488h2v1h-2zM397 488h4v1h-4zM407 488h4v1h-4zM425 488h13v1h-13zM167 517h2v1h-2zM674 517h2v1h-2zM297 499h3v1h-3zM316 499h3v1h-3zM446 499h2v1h-2zM893 499h4v1h-4zM903 499h4v1h-4zM689 521h3v1h-3zM711 521h2v1h-2zM795 521h6v1h-6zM99 494h2v1h-2zM334 494h2v1h-2zM480 494h2v1h-2zM487 494h2v1h-2zM348 487h2v1h-2zM401 487h6v1h-6zM356 483h5v1h-5zM384 483h2v1h-2zM811 524h6v1h-6zM687 520h2v1h-2zM791 520h4v1h-4zM825 520h2v1h-2zM90 490h2v1h-2zM342 490h2v1h-2zM69 491h4v1h-4zM88 491h2v1h-2zM95 491h2v1h-2zM340 491h2v1h-2zM386 482h2v1h-2zM788 517v2h1v-2zM440 492v2h1v-2zM14 506v1h1v-1zM438 489v2h1v-2zM493 498v1h1v-1zM17 508v1h1v-1zM443 497v1h1v-1zM163 516v1h1v-1zM859 508v2h1v-2zM786 515v1h1v-1zM230 508v1h1v-1zM787 516v1h1v-1zM234 505v1h1v-1zM395 486v1h1v-1zM855 515v2h1v-2zM396 487v1h1v-1zM860 506v2h1v-2zM46 502v1h1v-1zM854 517v2h1v-2zM97 492v1h1v-1zM441 494v1h1v-1zM50 499v1h1v-1zM254 506v1h1v-1zM490 496v1h1v-1zM98 493v1h1v-1zM824 521v1h1v-1zM390 482v1h1v-1zM785 513v2h1v-2zM160 514v1h1v-1zM592 510v1h1v-1zM518 506v1h1v-1zM49 500v1h1v-1zM445 500v1h1v-1zM257 504v1h1v-1zM258 503v1h1v-1zM858 510v2h1v-2zM856 513v2h1v-2zM742 509v1h1v-1zM442 495v2h1v-2zM21 511v1h1v-1zM498 502v1h1v-1zM745 507v1h1v-1zM746 506v1h1v-1zM233 506v1h1v-1zM106 499v1h1v-1zM622 510v1h1v-1zM710 522v1h1v-1zM782 509v2h1v-2zM158 512v1h1v-1zM625 508v1h1v-1zM489 495v1h1v-1zM444 498v2h1v-2zM159 513v1h1v-1zM887 504v1h1v-1zM888 503v1h1v-1zM783 511v1h1v-1zM886 505v1h1v-1zM891 501v1h1v-1zM892 500v1h1v-1zM784 512v1h1v-1zM18 509v1h1v-1zM391 483v1h1v-1zM497 501v1h1v-1zM448 498v1h1v-1zM392 484v1h1v-1zM626 507v1h1v-1zM714 519v1h1v-1zM486 493v1h1v-1zM713 520v1h1v-1zM439 491v1h1v-1zM94 490v1h1v-1zM857 512v1h1v-1zM717 517v1h1v-1zM521 508v1h1v-1zM101 495v1h1v-1zM164 517v1h1v-1zM64 494v1h1v-1zM522 509v1h1v-1zM494 499v1h1v-1zM102 496v1h1v-1zM105 498v1h1v-1z" fill="#1e90ff"/>
</g>
<text x="9.3" y="478" font-size="10.1" fill="#000" textLength="67.4" lengthAdjust="spacingAndGlyphs" stroke="#000" stroke-width="0.15">RSI(14) 57.8359</text>
<rect x="5" y="543" width="1" height="3" fill="#000"/>
<text x="3.9" y="555" font-size="10.1" fill="#000" textLength="51.9" lengthAdjust="spacingAndGlyphs" stroke="#000" stroke-width="0.15">26 Feb 2019</text>
<rect x="69" y="543" width="1" height="3" fill="#000"/>
<text x="67.9" y="555" font-size="10.1" fill="#000" textLength="47.0" lengthAdjust="spacingAndGlyphs" stroke="#000" stroke-width="0.15">7 Mar 2019</text>
<rect x="133" y="543" width="1" height="3" fill="#000"/>
<text x="131.9" y="555" font-size="10.1" fill="#000" textLength="51.2" lengthAdjust="spacingAndGlyphs" stroke="#000" stroke-width="0.15">16 Mar 2019</text>
<rect x="197" y="543" width="1" height="3" fill="#000"/>
<text x="195.9" y="555" font-size="10.1" fill="#000" textLength="52.0" lengthAdjust="spacingAndGlyphs" stroke="#000" stroke-width="0.15">26 Mar 2019</text>
<rect x="261" y="543" width="1" height="3" fill="#000"/>
<text x="259.9" y="555" font-size="10.1" fill="#000" textLength="46.4" lengthAdjust="spacingAndGlyphs" stroke="#000" stroke-width="0.15">4 Apr 2019</text>
<rect x="325" y="543" width="1" height="3" fill="#000"/>
<text x="323.9" y="555" font-size="10.1" fill="#000" textLength="51.4" lengthAdjust="spacingAndGlyphs" stroke="#000" stroke-width="0.15">13 Apr 2019</text>
<rect x="389" y="543" width="1" height="3" fill="#000"/>
<text x="387.9" y="555" font-size="10.1" fill="#000" textLength="51.4" lengthAdjust="spacingAndGlyphs" stroke="#000" stroke-width="0.15">23 Apr 2019</text>
<rect x="453" y="543" width="1" height="3" fill="#000"/>
<text x="451.9" y="555" font-size="10.1" fill="#000" textLength="49.7" lengthAdjust="spacingAndGlyphs" stroke="#000" stroke-width="0.15">2 May 2019</text>
<rect x="517" y="543" width="1" height="3" fill="#000"/>
<text x="515.9" y="555" font-size="10.1" fill="#000" textLength="54.3" lengthAdjust="spacingAndGlyphs" stroke="#000" stroke-width="0.15">11 May 2019</text>
<rect x="581" y="543" width="1" height="3" fill="#000"/>
<text x="579.9" y="555" font-size="10.1" fill="#000" textLength="55.0" lengthAdjust="spacingAndGlyphs" stroke="#000" stroke-width="0.15">21 May 2019</text>
<rect x="645" y="543" width="1" height="3" fill="#000"/>
<text x="643.9" y="555" font-size="10.1" fill="#000" textLength="54.4" lengthAdjust="spacingAndGlyphs" stroke="#000" stroke-width="0.15">30 May 2019</text>
<rect x="709" y="543" width="1" height="3" fill="#000"/>
<text x="707.9" y="555" font-size="10.1" fill="#000" textLength="44.6" lengthAdjust="spacingAndGlyphs" stroke="#000" stroke-width="0.15">8 Jun 2019</text>
<rect x="773" y="543" width="1" height="3" fill="#000"/>
<text x="771.9" y="555" font-size="10.1" fill="#000" textLength="49.6" lengthAdjust="spacingAndGlyphs" stroke="#000" stroke-width="0.15">18 Jun 2019</text>
<rect x="837" y="543" width="1" height="3" fill="#000"/>
<text x="835.9" y="555" font-size="10.1" fill="#000" textLength="49.6" lengthAdjust="spacingAndGlyphs" stroke="#000" stroke-width="0.15">27 Jun 2019</text>
<rect x="901" y="543" width="1" height="3" fill="#000"/>
<text x="899.9" y="555" font-size="10.1" fill="#000" textLength="42.1" lengthAdjust="spacingAndGlyphs" stroke="#000" stroke-width="0.15">6 Jul 2019</text>
<rect x="0" y="565" width="1208" height="1" fill="#000"/>
<rect x="0" y="566" width="1208" height="19" fill="#f0f0f0"/>
<rect x="0" y="585" width="1208" height="1" fill="#fbfbfb"/>
<rect x="0" y="566" width="1" height="19" fill="#a0a0a0"/>
<rect x="1" y="566" width="1" height="18" fill="#696969"/>
<rect x="214" y="565" width="100" height="19" fill="#000"/>
<rect x="215" y="565" width="98" height="18" fill="#ffffff"/>
<rect x="215" y="565" width="98" height="1" fill="#000"/>
<rect x="314" y="566" width="1" height="19" fill="#c8c8c8"/>
<rect x="215" y="584" width="100" height="1" fill="#c8c8c8"/>
<rect x="110" y="568" width="1" height="14" fill="#808080"/>
<rect x="418" y="568" width="1" height="14" fill="#808080"/>
<rect x="522" y="568" width="1" height="14" fill="#808080"/>
<rect x="614" y="568" width="1" height="14" fill="#808080"/>
<rect x="682" y="568" width="1" height="14" fill="#808080"/>
<rect x="766" y="568" width="1" height="14" fill="#808080"/>
<rect x="854" y="568" width="1" height="14" fill="#808080"/>
<rect x="946" y="568" width="1" height="14" fill="#808080"/>
<rect x="1038" y="568" width="1" height="14" fill="#808080"/>
<rect x="1130" y="568" width="1" height="14" fill="#808080"/>
<g clip-path="url(#ctab)">
<text x="18.4" y="580" font-size="12.4" fill="#666" textLength="79.5" lengthAdjust="spacingAndGlyphs">EURUSD,Daily</text>
<text x="121.4" y="580" font-size="12.4" fill="#666" textLength="81.2" lengthAdjust="spacingAndGlyphs">AUDUSD,Daily</text>
<text x="224.2" y="580" font-size="12.4" fill="#000" textLength="78.5" lengthAdjust="spacingAndGlyphs">USDCHF,Daily</text>
<text x="324.8" y="580" font-size="12.4" fill="#666" textLength="81.2" lengthAdjust="spacingAndGlyphs">USDCAD,Daily</text>
<text x="428.1" y="580" font-size="12.4" fill="#666" textLength="82.5" lengthAdjust="spacingAndGlyphs">USDCNH,Daily</text>
<text x="532.6" y="580" font-size="12.4" fill="#666" textLength="69.4" lengthAdjust="spacingAndGlyphs">XAUUSD,H4</text>
<text x="624" y="580" font-size="12.4" fill="#666" textLength="47" lengthAdjust="spacingAndGlyphs">DJ30,H4</text>
<text x="693.6" y="580" font-size="12.4" fill="#666" textLength="60" lengthAdjust="spacingAndGlyphs">USDOil,H1</text>
<text x="775.8" y="580" font-size="12.4" fill="#666" textLength="66.6" lengthAdjust="spacingAndGlyphs">USDCHF,H1</text>
<text x="865.9" y="580" font-size="12.4" fill="#666" textLength="67.4" lengthAdjust="spacingAndGlyphs">GBPUSD,H1</text>
<text x="958.2" y="580" font-size="12.4" fill="#666" textLength="67.2" lengthAdjust="spacingAndGlyphs">EURUSD,H1</text>
<text x="1048.8" y="580" font-size="12.4" fill="#666" textLength="68.7" lengthAdjust="spacingAndGlyphs">GBPAUD,H1</text>
<text x="1140.3" y="580" font-size="12.4" fill="#666" textLength="62.4" lengthAdjust="spacingAndGlyphs">USDJPY,H1</text>
</g>
<path d="M1186.5,570.5 L1186.5,577.5 L1183,574 Z" fill="#a8a8a8" shape-rendering="auto"/>
<path d="M1202,570.5 L1202,577.5 L1205.5,574 Z" fill="#000" shape-rendering="auto"/>
</svg>
</body></html>
